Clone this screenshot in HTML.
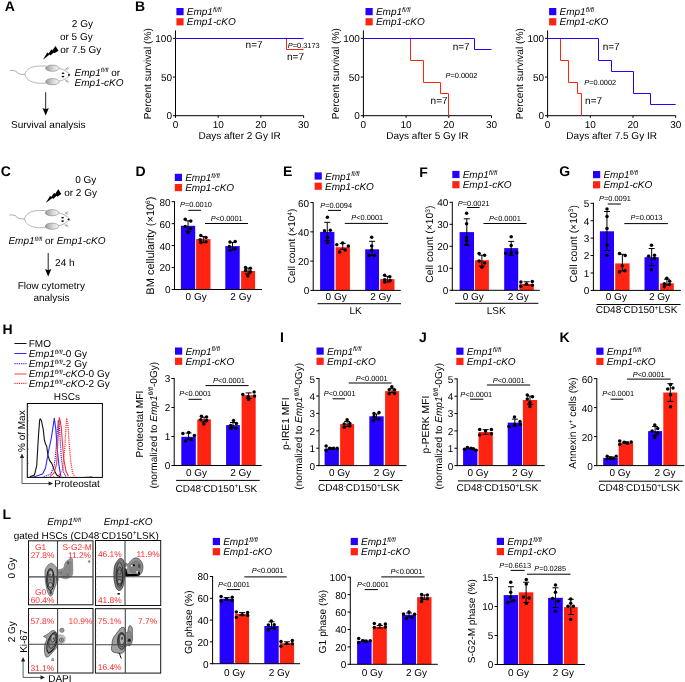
<!DOCTYPE html>
<html><head><meta charset="utf-8"><style>
html,body{margin:0;padding:0;background:#fff;}
svg{display:block;will-change:transform;}
text{font-family:"Liberation Sans", sans-serif;text-rendering:geometricPrecision;}
</style></head><body>
<svg width="685" height="682" viewBox="0 0 685 682" font-family='"Liberation Sans", sans-serif' shape-rendering="auto">
<text x="4.80" y="11.10" font-size="14" font-weight="bold">A</text>
<text x="134.90" y="11.10" font-size="14" font-weight="bold">B</text>
<text x="0.80" y="176.10" font-size="14" font-weight="bold">C</text>
<text x="2.50" y="333.80" font-size="14" font-weight="bold">H</text>
<text x="2.50" y="519.40" font-size="14" font-weight="bold">L</text>
<line x1="175.50" y1="30.40" x2="175.50" y2="116.20" stroke="#000" stroke-width="1"/>
<line x1="175.00" y1="115.70" x2="303.60" y2="115.70" stroke="#000" stroke-width="1"/>
<line x1="172.90" y1="115.70" x2="175.50" y2="115.70" stroke="#000" stroke-width="1"/>
<text x="172.00" y="119.40" font-size="10" text-anchor="end">0</text>
<line x1="172.90" y1="77.05" x2="175.50" y2="77.05" stroke="#000" stroke-width="1"/>
<text x="172.00" y="80.75" font-size="10" text-anchor="end">50</text>
<line x1="172.90" y1="38.40" x2="175.50" y2="38.40" stroke="#000" stroke-width="1"/>
<text x="172.00" y="42.10" font-size="10" text-anchor="end">100</text>
<line x1="175.50" y1="115.70" x2="175.50" y2="117.90" stroke="#000" stroke-width="1"/>
<text x="175.50" y="127.50" font-size="10" text-anchor="middle">0</text>
<line x1="218.20" y1="115.70" x2="218.20" y2="117.90" stroke="#000" stroke-width="1"/>
<text x="218.20" y="127.50" font-size="10" text-anchor="middle">10</text>
<line x1="260.90" y1="115.70" x2="260.90" y2="117.90" stroke="#000" stroke-width="1"/>
<text x="260.90" y="127.50" font-size="10" text-anchor="middle">20</text>
<line x1="303.60" y1="115.70" x2="303.60" y2="117.90" stroke="#000" stroke-width="1"/>
<text x="303.60" y="127.50" font-size="10" text-anchor="middle">30</text>
<text x="239.55" y="138.60" font-size="10" text-anchor="middle">Days after 2 Gy IR</text>
<text x="0" y="0" font-size="10.2" text-anchor="middle" transform="translate(151.10,73.60) rotate(-90)">Percent survival (%)</text>
<polyline points="175.50,38.50 286.50,38.50 286.50,49.50 303.60,49.50" fill="none" stroke="#ff2411" stroke-width="1"/>
<polyline points="175.50,38.50 303.60,38.50" fill="none" stroke="#2400ff" stroke-width="1"/>
<text x="245.60" y="47.80" font-size="10">n=7</text>
<text x="287.80" y="47.60" font-size="7.4"><tspan font-style="italic">P</tspan>=0.3173</text>
<text x="287.00" y="59.50" font-size="10">n=7</text>
<rect x="176.40" y="8.00" width="7.20" height="7.20" fill="#2400ff"/>
<rect x="176.40" y="18.20" width="7.20" height="7.20" fill="#ff2411"/>
<text x="186.80" y="15.20" font-size="10" font-style="italic">Emp1<tspan font-size="6.6" dy="-3.3">fl/fl</tspan></text>
<text x="186.80" y="25.40" font-size="10" font-style="italic">Emp1-cKO</text>
<line x1="363.40" y1="30.40" x2="363.40" y2="116.20" stroke="#000" stroke-width="1"/>
<line x1="362.90" y1="115.70" x2="491.50" y2="115.70" stroke="#000" stroke-width="1"/>
<line x1="360.80" y1="115.70" x2="363.40" y2="115.70" stroke="#000" stroke-width="1"/>
<text x="359.90" y="119.40" font-size="10" text-anchor="end">0</text>
<line x1="360.80" y1="77.05" x2="363.40" y2="77.05" stroke="#000" stroke-width="1"/>
<text x="359.90" y="80.75" font-size="10" text-anchor="end">50</text>
<line x1="360.80" y1="38.40" x2="363.40" y2="38.40" stroke="#000" stroke-width="1"/>
<text x="359.90" y="42.10" font-size="10" text-anchor="end">100</text>
<line x1="363.40" y1="115.70" x2="363.40" y2="117.90" stroke="#000" stroke-width="1"/>
<text x="363.40" y="127.50" font-size="10" text-anchor="middle">0</text>
<line x1="406.10" y1="115.70" x2="406.10" y2="117.90" stroke="#000" stroke-width="1"/>
<text x="406.10" y="127.50" font-size="10" text-anchor="middle">10</text>
<line x1="448.80" y1="115.70" x2="448.80" y2="117.90" stroke="#000" stroke-width="1"/>
<text x="448.80" y="127.50" font-size="10" text-anchor="middle">20</text>
<line x1="491.50" y1="115.70" x2="491.50" y2="117.90" stroke="#000" stroke-width="1"/>
<text x="491.50" y="127.50" font-size="10" text-anchor="middle">30</text>
<text x="427.45" y="138.60" font-size="10" text-anchor="middle">Days after 5 Gy IR</text>
<text x="0" y="0" font-size="10.2" text-anchor="middle" transform="translate(339.00,73.60) rotate(-90)">Percent survival (%)</text>
<polyline points="363.40,38.50 410.50,38.50 410.50,60.50 423.50,60.50 423.50,82.50 440.50,82.50 440.50,93.50 448.50,93.50 448.50,115.70" fill="none" stroke="#ff2411" stroke-width="1"/>
<polyline points="363.40,38.50 474.50,38.50 474.50,49.50 491.50,49.50" fill="none" stroke="#2400ff" stroke-width="1"/>
<text x="452.70" y="50.40" font-size="10">n=7</text>
<text x="445.60" y="77.80" font-size="7.4"><tspan font-style="italic">P</tspan>=0.0002</text>
<text x="430.60" y="104.30" font-size="10">n=7</text>
<rect x="365.50" y="8.00" width="7.20" height="7.20" fill="#2400ff"/>
<rect x="365.50" y="18.20" width="7.20" height="7.20" fill="#ff2411"/>
<text x="375.90" y="15.20" font-size="10" font-style="italic">Emp1<tspan font-size="6.6" dy="-3.3">fl/fl</tspan></text>
<text x="375.90" y="25.40" font-size="10" font-style="italic">Emp1-cKO</text>
<line x1="547.60" y1="30.40" x2="547.60" y2="116.20" stroke="#000" stroke-width="1"/>
<line x1="547.10" y1="115.70" x2="675.70" y2="115.70" stroke="#000" stroke-width="1"/>
<line x1="545.00" y1="115.70" x2="547.60" y2="115.70" stroke="#000" stroke-width="1"/>
<text x="544.10" y="119.40" font-size="10" text-anchor="end">0</text>
<line x1="545.00" y1="77.05" x2="547.60" y2="77.05" stroke="#000" stroke-width="1"/>
<text x="544.10" y="80.75" font-size="10" text-anchor="end">50</text>
<line x1="545.00" y1="38.40" x2="547.60" y2="38.40" stroke="#000" stroke-width="1"/>
<text x="544.10" y="42.10" font-size="10" text-anchor="end">100</text>
<line x1="547.60" y1="115.70" x2="547.60" y2="117.90" stroke="#000" stroke-width="1"/>
<text x="547.60" y="127.50" font-size="10" text-anchor="middle">0</text>
<line x1="590.30" y1="115.70" x2="590.30" y2="117.90" stroke="#000" stroke-width="1"/>
<text x="590.30" y="127.50" font-size="10" text-anchor="middle">10</text>
<line x1="633.00" y1="115.70" x2="633.00" y2="117.90" stroke="#000" stroke-width="1"/>
<text x="633.00" y="127.50" font-size="10" text-anchor="middle">20</text>
<line x1="675.70" y1="115.70" x2="675.70" y2="117.90" stroke="#000" stroke-width="1"/>
<text x="675.70" y="127.50" font-size="10" text-anchor="middle">30</text>
<text x="611.65" y="138.60" font-size="10" text-anchor="middle">Days after 7.5 Gy IR</text>
<text x="0" y="0" font-size="10.2" text-anchor="middle" transform="translate(523.20,73.60) rotate(-90)">Percent survival (%)</text>
<polyline points="547.60,38.50 560.50,38.50 560.50,60.50 568.50,60.50 568.50,82.50 577.50,82.50 577.50,93.50 581.50,93.50 581.50,115.70" fill="none" stroke="#ff2411" stroke-width="1"/>
<polyline points="547.60,38.50 598.50,38.50 598.50,60.50 611.50,60.50 611.50,71.50 633.50,71.50 633.50,93.50 650.50,93.50 650.50,104.50 675.70,104.50" fill="none" stroke="#2400ff" stroke-width="1"/>
<text x="602.70" y="50.40" font-size="10">n=7</text>
<text x="584.30" y="84.60" font-size="7.4"><tspan font-style="italic">P</tspan>=0.0002</text>
<text x="585.10" y="103.80" font-size="10">n=7</text>
<rect x="549.10" y="8.00" width="7.20" height="7.20" fill="#2400ff"/>
<rect x="549.10" y="18.20" width="7.20" height="7.20" fill="#ff2411"/>
<text x="559.50" y="15.20" font-size="10" font-style="italic">Emp1<tspan font-size="6.6" dy="-3.3">fl/fl</tspan></text>
<text x="559.50" y="25.40" font-size="10" font-style="italic">Emp1-cKO</text>
<rect x="180.90" y="225.80" width="14.30" height="63.70" fill="#2400ff"/>
<rect x="196.10" y="239.10" width="14.40" height="50.40" fill="#ff2411"/>
<rect x="225.30" y="246.10" width="14.40" height="43.40" fill="#2400ff"/>
<rect x="241.10" y="271.00" width="14.00" height="18.50" fill="#ff2411"/>
<line x1="188.05" y1="220.80" x2="188.05" y2="231.30" stroke="#000" stroke-width="1"/>
<line x1="185.05" y1="220.80" x2="191.05" y2="220.80" stroke="#000" stroke-width="1"/>
<line x1="185.05" y1="231.30" x2="191.05" y2="231.30" stroke="#000" stroke-width="1"/>
<circle cx="185.20" cy="219.20" r="1.75" fill="#000"/>
<circle cx="190.80" cy="221.10" r="1.75" fill="#000"/>
<circle cx="185.20" cy="226.60" r="1.75" fill="#000"/>
<circle cx="190.80" cy="228.40" r="1.75" fill="#000"/>
<circle cx="187.90" cy="232.40" r="1.75" fill="#000"/>
<line x1="203.30" y1="236.50" x2="203.30" y2="242.60" stroke="#000" stroke-width="1"/>
<line x1="200.30" y1="236.50" x2="206.30" y2="236.50" stroke="#000" stroke-width="1"/>
<line x1="200.30" y1="242.60" x2="206.30" y2="242.60" stroke="#000" stroke-width="1"/>
<circle cx="200.80" cy="235.40" r="1.75" fill="#000"/>
<circle cx="206.00" cy="237.50" r="1.75" fill="#000"/>
<circle cx="200.20" cy="239.80" r="1.75" fill="#000"/>
<circle cx="206.00" cy="241.80" r="1.75" fill="#000"/>
<circle cx="200.80" cy="242.60" r="1.75" fill="#000"/>
<line x1="232.50" y1="242.60" x2="232.50" y2="250.00" stroke="#000" stroke-width="1"/>
<line x1="229.50" y1="242.60" x2="235.50" y2="242.60" stroke="#000" stroke-width="1"/>
<line x1="229.50" y1="250.00" x2="235.50" y2="250.00" stroke="#000" stroke-width="1"/>
<circle cx="230.00" cy="242.10" r="1.75" fill="#000"/>
<circle cx="235.20" cy="241.40" r="1.75" fill="#000"/>
<circle cx="229.40" cy="246.50" r="1.75" fill="#000"/>
<circle cx="235.20" cy="248.40" r="1.75" fill="#000"/>
<circle cx="230.00" cy="250.30" r="1.75" fill="#000"/>
<line x1="248.10" y1="268.10" x2="248.10" y2="273.90" stroke="#000" stroke-width="1"/>
<line x1="245.10" y1="268.10" x2="251.10" y2="268.10" stroke="#000" stroke-width="1"/>
<line x1="245.10" y1="273.90" x2="251.10" y2="273.90" stroke="#000" stroke-width="1"/>
<circle cx="245.50" cy="267.50" r="1.75" fill="#000"/>
<circle cx="250.40" cy="268.30" r="1.75" fill="#000"/>
<circle cx="245.50" cy="270.40" r="1.75" fill="#000"/>
<circle cx="250.40" cy="271.80" r="1.75" fill="#000"/>
<circle cx="247.80" cy="276.00" r="1.75" fill="#000"/>
<line x1="174.50" y1="201.20" x2="174.50" y2="290.00" stroke="#000" stroke-width="1"/>
<line x1="174.00" y1="289.50" x2="262.00" y2="289.50" stroke="#000" stroke-width="1"/>
<line x1="171.70" y1="289.50" x2="174.50" y2="289.50" stroke="#000" stroke-width="1"/>
<text x="170.50" y="293.40" font-size="10" text-anchor="end">0</text>
<line x1="171.70" y1="267.55" x2="174.50" y2="267.55" stroke="#000" stroke-width="1"/>
<text x="170.50" y="271.45" font-size="10" text-anchor="end">20</text>
<line x1="171.70" y1="245.60" x2="174.50" y2="245.60" stroke="#000" stroke-width="1"/>
<text x="170.50" y="249.50" font-size="10" text-anchor="end">40</text>
<line x1="171.70" y1="223.65" x2="174.50" y2="223.65" stroke="#000" stroke-width="1"/>
<text x="170.50" y="227.55" font-size="10" text-anchor="end">60</text>
<line x1="171.70" y1="201.70" x2="174.50" y2="201.70" stroke="#000" stroke-width="1"/>
<text x="170.50" y="205.60" font-size="10" text-anchor="end">80</text>
<text x="196.15" y="300.30" font-size="10" text-anchor="middle">0 Gy</text>
<text x="240.90" y="300.30" font-size="10" text-anchor="middle">2 Gy</text>
<text x="180.00" y="207.30" font-size="7.4"><tspan font-style="italic">P</tspan>=0.0010</text>
<line x1="188.30" y1="210.30" x2="201.10" y2="210.30" stroke="#000" stroke-width="1"/>
<text x="210.80" y="220.70" font-size="7.4"><tspan font-style="italic">P</tspan>&lt;0.0001</text>
<line x1="205.00" y1="223.50" x2="248.00" y2="223.50" stroke="#000" stroke-width="1"/>
<text x="0" y="0" font-size="11" text-anchor="middle" transform="translate(154.00,245.60) rotate(-90)">BM cellularity (×10<tspan font-size="6.6" dy="-3.6">6</tspan><tspan dy="3.6">)</tspan></text>
<rect x="174.80" y="173.80" width="7.20" height="7.20" fill="#2400ff"/>
<rect x="174.80" y="184.00" width="7.20" height="7.20" fill="#ff2411"/>
<text x="185.20" y="181.00" font-size="10" font-style="italic">Emp1<tspan font-size="6.6" dy="-3.3">fl/fl</tspan></text>
<text x="185.20" y="191.20" font-size="10" font-style="italic">Emp1-cKO</text>
<text x="135.60" y="176.10" font-size="14" font-weight="bold">D</text>
<rect x="320.10" y="231.90" width="14.30" height="58.50" fill="#2400ff"/>
<rect x="335.60" y="247.20" width="14.30" height="43.20" fill="#ff2411"/>
<rect x="365.20" y="249.30" width="13.80" height="41.10" fill="#2400ff"/>
<rect x="380.20" y="279.10" width="14.30" height="11.30" fill="#ff2411"/>
<line x1="327.25" y1="222.30" x2="327.25" y2="240.70" stroke="#000" stroke-width="1"/>
<line x1="324.25" y1="222.30" x2="330.25" y2="222.30" stroke="#000" stroke-width="1"/>
<line x1="324.25" y1="240.70" x2="330.25" y2="240.70" stroke="#000" stroke-width="1"/>
<circle cx="327.40" cy="217.30" r="1.75" fill="#000"/>
<circle cx="324.50" cy="230.80" r="1.75" fill="#000"/>
<circle cx="330.30" cy="230.20" r="1.75" fill="#000"/>
<circle cx="327.60" cy="237.60" r="1.75" fill="#000"/>
<circle cx="327.40" cy="242.70" r="1.75" fill="#000"/>
<line x1="342.75" y1="243.40" x2="342.75" y2="249.30" stroke="#000" stroke-width="1"/>
<line x1="339.75" y1="243.40" x2="345.75" y2="243.40" stroke="#000" stroke-width="1"/>
<line x1="339.75" y1="249.30" x2="345.75" y2="249.30" stroke="#000" stroke-width="1"/>
<circle cx="336.80" cy="244.80" r="1.75" fill="#000"/>
<circle cx="342.60" cy="243.10" r="1.75" fill="#000"/>
<circle cx="348.30" cy="246.00" r="1.75" fill="#000"/>
<circle cx="339.70" cy="252.10" r="1.75" fill="#000"/>
<circle cx="345.20" cy="250.10" r="1.75" fill="#000"/>
<line x1="372.10" y1="241.30" x2="372.10" y2="255.60" stroke="#000" stroke-width="1"/>
<line x1="369.10" y1="241.30" x2="375.10" y2="241.30" stroke="#000" stroke-width="1"/>
<line x1="369.10" y1="255.60" x2="375.10" y2="255.60" stroke="#000" stroke-width="1"/>
<circle cx="371.70" cy="237.20" r="1.75" fill="#000"/>
<circle cx="371.70" cy="246.00" r="1.75" fill="#000"/>
<circle cx="371.70" cy="250.10" r="1.75" fill="#000"/>
<circle cx="369.00" cy="255.60" r="1.75" fill="#000"/>
<circle cx="374.50" cy="255.60" r="1.75" fill="#000"/>
<line x1="387.35" y1="276.30" x2="387.35" y2="282.10" stroke="#000" stroke-width="1"/>
<line x1="384.35" y1="276.30" x2="390.35" y2="276.30" stroke="#000" stroke-width="1"/>
<line x1="384.35" y1="282.10" x2="390.35" y2="282.10" stroke="#000" stroke-width="1"/>
<circle cx="384.60" cy="275.30" r="1.75" fill="#000"/>
<circle cx="389.80" cy="276.80" r="1.75" fill="#000"/>
<circle cx="384.60" cy="279.80" r="1.75" fill="#000"/>
<circle cx="390.10" cy="280.60" r="1.75" fill="#000"/>
<circle cx="384.60" cy="282.10" r="1.75" fill="#000"/>
<line x1="313.20" y1="202.10" x2="313.20" y2="290.90" stroke="#000" stroke-width="1"/>
<line x1="312.70" y1="290.40" x2="400.70" y2="290.40" stroke="#000" stroke-width="1"/>
<line x1="310.40" y1="290.40" x2="313.20" y2="290.40" stroke="#000" stroke-width="1"/>
<text x="309.20" y="294.30" font-size="10" text-anchor="end">0</text>
<line x1="310.40" y1="261.13" x2="313.20" y2="261.13" stroke="#000" stroke-width="1"/>
<text x="309.20" y="265.03" font-size="10" text-anchor="end">20</text>
<line x1="310.40" y1="231.87" x2="313.20" y2="231.87" stroke="#000" stroke-width="1"/>
<text x="309.20" y="235.77" font-size="10" text-anchor="end">40</text>
<line x1="310.40" y1="202.60" x2="313.20" y2="202.60" stroke="#000" stroke-width="1"/>
<text x="309.20" y="206.50" font-size="10" text-anchor="end">60</text>
<text x="336.15" y="300.40" font-size="10" text-anchor="middle">0 Gy</text>
<text x="380.70" y="300.40" font-size="10" text-anchor="middle">2 Gy</text>
<text x="320.20" y="207.80" font-size="7.4"><tspan font-style="italic">P</tspan>=0.0094</text>
<line x1="328.00" y1="210.40" x2="341.00" y2="210.40" stroke="#000" stroke-width="1"/>
<text x="351.30" y="220.10" font-size="7.4"><tspan font-style="italic">P</tspan>&lt;0.0001</text>
<line x1="344.80" y1="223.40" x2="388.10" y2="223.40" stroke="#000" stroke-width="1"/>
<line x1="317.50" y1="303.70" x2="401.00" y2="303.70" stroke="#000" stroke-width="1"/>
<text x="355.60" y="313.80" font-size="10" text-anchor="middle">LK</text>
<text x="0" y="0" font-size="10" text-anchor="middle" transform="translate(295.30,246.00) rotate(-90)">Cell count (×10<tspan font-size="6.6" dy="-3.6">4</tspan><tspan dy="3.6">)</tspan></text>
<rect x="314.60" y="172.40" width="7.20" height="7.20" fill="#2400ff"/>
<rect x="314.60" y="182.60" width="7.20" height="7.20" fill="#ff2411"/>
<text x="325.00" y="179.60" font-size="10" font-style="italic">Emp1<tspan font-size="6.6" dy="-3.3">fl/fl</tspan></text>
<text x="325.00" y="189.80" font-size="10" font-style="italic">Emp1-cKO</text>
<text x="282.90" y="176.10" font-size="14" font-weight="bold">E</text>
<rect x="459.60" y="232.10" width="14.40" height="58.20" fill="#2400ff"/>
<rect x="474.90" y="260.20" width="14.00" height="30.10" fill="#ff2411"/>
<rect x="504.20" y="248.10" width="14.00" height="42.20" fill="#2400ff"/>
<rect x="519.40" y="283.90" width="14.40" height="6.40" fill="#ff2411"/>
<line x1="466.80" y1="218.80" x2="466.80" y2="245.20" stroke="#000" stroke-width="1"/>
<line x1="463.80" y1="218.80" x2="469.80" y2="218.80" stroke="#000" stroke-width="1"/>
<line x1="463.80" y1="245.20" x2="469.80" y2="245.20" stroke="#000" stroke-width="1"/>
<circle cx="466.60" cy="213.30" r="1.75" fill="#000"/>
<circle cx="466.60" cy="223.80" r="1.75" fill="#000"/>
<circle cx="466.60" cy="237.60" r="1.75" fill="#000"/>
<circle cx="466.60" cy="240.70" r="1.75" fill="#000"/>
<circle cx="466.60" cy="244.30" r="1.75" fill="#000"/>
<line x1="481.90" y1="255.20" x2="481.90" y2="266.10" stroke="#000" stroke-width="1"/>
<line x1="478.90" y1="255.20" x2="484.90" y2="255.20" stroke="#000" stroke-width="1"/>
<line x1="478.90" y1="266.10" x2="484.90" y2="266.10" stroke="#000" stroke-width="1"/>
<circle cx="479.10" cy="253.60" r="1.75" fill="#000"/>
<circle cx="484.60" cy="255.20" r="1.75" fill="#000"/>
<circle cx="479.10" cy="261.00" r="1.75" fill="#000"/>
<circle cx="484.60" cy="263.00" r="1.75" fill="#000"/>
<circle cx="481.90" cy="267.20" r="1.75" fill="#000"/>
<line x1="511.20" y1="241.40" x2="511.20" y2="255.20" stroke="#000" stroke-width="1"/>
<line x1="508.20" y1="241.40" x2="514.20" y2="241.40" stroke="#000" stroke-width="1"/>
<line x1="508.20" y1="255.20" x2="514.20" y2="255.20" stroke="#000" stroke-width="1"/>
<circle cx="511.20" cy="236.70" r="1.75" fill="#000"/>
<circle cx="511.20" cy="245.40" r="1.75" fill="#000"/>
<circle cx="505.70" cy="253.20" r="1.75" fill="#000"/>
<circle cx="511.20" cy="252.50" r="1.75" fill="#000"/>
<circle cx="516.80" cy="252.80" r="1.75" fill="#000"/>
<line x1="526.60" y1="281.80" x2="526.60" y2="285.10" stroke="#000" stroke-width="1"/>
<line x1="523.60" y1="281.80" x2="529.60" y2="281.80" stroke="#000" stroke-width="1"/>
<line x1="523.60" y1="285.10" x2="529.60" y2="285.10" stroke="#000" stroke-width="1"/>
<circle cx="520.90" cy="282.10" r="1.75" fill="#000"/>
<circle cx="526.40" cy="283.90" r="1.75" fill="#000"/>
<circle cx="532.30" cy="281.60" r="1.75" fill="#000"/>
<circle cx="520.90" cy="286.20" r="1.75" fill="#000"/>
<circle cx="532.30" cy="285.30" r="1.75" fill="#000"/>
<line x1="452.30" y1="201.80" x2="452.30" y2="290.80" stroke="#000" stroke-width="1"/>
<line x1="451.80" y1="290.30" x2="539.80" y2="290.30" stroke="#000" stroke-width="1"/>
<line x1="449.50" y1="290.30" x2="452.30" y2="290.30" stroke="#000" stroke-width="1"/>
<text x="448.30" y="294.20" font-size="10" text-anchor="end">0</text>
<line x1="449.50" y1="268.30" x2="452.30" y2="268.30" stroke="#000" stroke-width="1"/>
<text x="448.30" y="272.20" font-size="10" text-anchor="end">10</text>
<line x1="449.50" y1="246.30" x2="452.30" y2="246.30" stroke="#000" stroke-width="1"/>
<text x="448.30" y="250.20" font-size="10" text-anchor="end">20</text>
<line x1="449.50" y1="224.30" x2="452.30" y2="224.30" stroke="#000" stroke-width="1"/>
<text x="448.30" y="228.20" font-size="10" text-anchor="end">30</text>
<line x1="449.50" y1="202.30" x2="452.30" y2="202.30" stroke="#000" stroke-width="1"/>
<text x="448.30" y="206.20" font-size="10" text-anchor="end">40</text>
<text x="473.25" y="300.20" font-size="10" text-anchor="middle">0 Gy</text>
<text x="518.20" y="300.20" font-size="10" text-anchor="middle">2 Gy</text>
<text x="457.80" y="205.70" font-size="7.4"><tspan font-style="italic">P</tspan>=0.0021</text>
<line x1="467.00" y1="207.50" x2="479.60" y2="207.50" stroke="#000" stroke-width="1"/>
<text x="488.90" y="220.80" font-size="7.4"><tspan font-style="italic">P</tspan>&lt;0.0001</text>
<line x1="483.50" y1="223.50" x2="526.60" y2="223.50" stroke="#000" stroke-width="1"/>
<line x1="455.00" y1="303.30" x2="538.40" y2="303.30" stroke="#000" stroke-width="1"/>
<text x="496.20" y="313.90" font-size="10" text-anchor="middle">LSK</text>
<text x="0" y="0" font-size="10.4" text-anchor="middle" transform="translate(433.20,244.20) rotate(-90)">Cell count (×10<tspan font-size="6.6" dy="-3.6">3</tspan><tspan dy="3.6">)</tspan></text>
<rect x="452.30" y="170.90" width="7.20" height="7.20" fill="#2400ff"/>
<rect x="452.30" y="181.10" width="7.20" height="7.20" fill="#ff2411"/>
<text x="462.70" y="178.10" font-size="10" font-style="italic">Emp1<tspan font-size="6.6" dy="-3.3">fl/fl</tspan></text>
<text x="462.70" y="188.30" font-size="10" font-style="italic">Emp1-cKO</text>
<text x="419.20" y="176.50" font-size="14" font-weight="bold">F</text>
<rect x="599.90" y="231.30" width="14.10" height="59.10" fill="#2400ff"/>
<rect x="615.20" y="263.40" width="14.40" height="27.00" fill="#ff2411"/>
<rect x="644.50" y="257.20" width="14.30" height="33.20" fill="#2400ff"/>
<rect x="660.10" y="283.30" width="13.70" height="7.10" fill="#ff2411"/>
<line x1="606.95" y1="211.50" x2="606.95" y2="250.50" stroke="#000" stroke-width="1"/>
<line x1="603.95" y1="211.50" x2="609.95" y2="211.50" stroke="#000" stroke-width="1"/>
<line x1="603.95" y1="250.50" x2="609.95" y2="250.50" stroke="#000" stroke-width="1"/>
<circle cx="607.00" cy="209.10" r="1.75" fill="#000"/>
<circle cx="607.00" cy="216.60" r="1.75" fill="#000"/>
<circle cx="607.00" cy="228.60" r="1.75" fill="#000"/>
<circle cx="607.00" cy="244.90" r="1.75" fill="#000"/>
<circle cx="607.00" cy="255.50" r="1.75" fill="#000"/>
<line x1="622.40" y1="254.30" x2="622.40" y2="271.00" stroke="#000" stroke-width="1"/>
<line x1="619.40" y1="254.30" x2="625.40" y2="254.30" stroke="#000" stroke-width="1"/>
<line x1="619.40" y1="271.00" x2="625.40" y2="271.00" stroke="#000" stroke-width="1"/>
<circle cx="619.50" cy="253.60" r="1.75" fill="#000"/>
<circle cx="625.20" cy="255.50" r="1.75" fill="#000"/>
<circle cx="622.20" cy="265.70" r="1.75" fill="#000"/>
<circle cx="619.50" cy="271.90" r="1.75" fill="#000"/>
<circle cx="624.90" cy="270.80" r="1.75" fill="#000"/>
<line x1="651.65" y1="248.50" x2="651.65" y2="265.70" stroke="#000" stroke-width="1"/>
<line x1="648.65" y1="248.50" x2="654.65" y2="248.50" stroke="#000" stroke-width="1"/>
<line x1="648.65" y1="265.70" x2="654.65" y2="265.70" stroke="#000" stroke-width="1"/>
<circle cx="651.50" cy="245.20" r="1.75" fill="#000"/>
<circle cx="648.60" cy="256.30" r="1.75" fill="#000"/>
<circle cx="654.50" cy="255.20" r="1.75" fill="#000"/>
<circle cx="654.50" cy="258.30" r="1.75" fill="#000"/>
<circle cx="651.50" cy="269.80" r="1.75" fill="#000"/>
<line x1="666.95" y1="279.20" x2="666.95" y2="285.10" stroke="#000" stroke-width="1"/>
<line x1="663.95" y1="279.20" x2="669.95" y2="279.20" stroke="#000" stroke-width="1"/>
<line x1="663.95" y1="285.10" x2="669.95" y2="285.10" stroke="#000" stroke-width="1"/>
<circle cx="666.80" cy="278.30" r="1.75" fill="#000"/>
<circle cx="664.40" cy="283.70" r="1.75" fill="#000"/>
<circle cx="669.70" cy="281.30" r="1.75" fill="#000"/>
<circle cx="664.40" cy="286.80" r="1.75" fill="#000"/>
<circle cx="669.50" cy="284.50" r="1.75" fill="#000"/>
<line x1="593.40" y1="202.80" x2="593.40" y2="290.90" stroke="#000" stroke-width="1"/>
<line x1="592.90" y1="290.40" x2="680.90" y2="290.40" stroke="#000" stroke-width="1"/>
<line x1="590.60" y1="290.40" x2="593.40" y2="290.40" stroke="#000" stroke-width="1"/>
<text x="589.40" y="294.30" font-size="10" text-anchor="end">0</text>
<line x1="590.60" y1="272.98" x2="593.40" y2="272.98" stroke="#000" stroke-width="1"/>
<text x="589.40" y="276.88" font-size="10" text-anchor="end">1</text>
<line x1="590.60" y1="255.56" x2="593.40" y2="255.56" stroke="#000" stroke-width="1"/>
<text x="589.40" y="259.46" font-size="10" text-anchor="end">2</text>
<line x1="590.60" y1="238.14" x2="593.40" y2="238.14" stroke="#000" stroke-width="1"/>
<text x="589.40" y="242.04" font-size="10" text-anchor="end">3</text>
<line x1="590.60" y1="220.72" x2="593.40" y2="220.72" stroke="#000" stroke-width="1"/>
<text x="589.40" y="224.62" font-size="10" text-anchor="end">4</text>
<line x1="590.60" y1="203.30" x2="593.40" y2="203.30" stroke="#000" stroke-width="1"/>
<text x="589.40" y="207.20" font-size="10" text-anchor="end">5</text>
<text x="616.35" y="300.40" font-size="10" text-anchor="middle">0 Gy</text>
<text x="659.45" y="300.40" font-size="10" text-anchor="middle">2 Gy</text>
<text x="599.00" y="200.80" font-size="7.4"><tspan font-style="italic">P</tspan>=0.0091</text>
<line x1="607.80" y1="204.00" x2="620.90" y2="204.00" stroke="#000" stroke-width="1"/>
<text x="630.50" y="220.40" font-size="7.4"><tspan font-style="italic">P</tspan>=0.0013</text>
<line x1="624.30" y1="223.60" x2="667.90" y2="223.60" stroke="#000" stroke-width="1"/>
<line x1="596.60" y1="304.50" x2="680.60" y2="304.50" stroke="#000" stroke-width="1"/>
<text x="636.50" y="313.30" font-size="10" text-anchor="middle">CD48<tspan font-size="6.6" dy="-3.6">-</tspan><tspan dy="3.6">CD150</tspan><tspan font-size="6.6" dy="-3.6">+</tspan><tspan dy="3.6">LSK</tspan></text>
<text x="0" y="0" font-size="10.4" text-anchor="middle" transform="translate(576.60,243.80) rotate(-90)">Cell count (×10<tspan font-size="6.6" dy="-3.6">3</tspan><tspan dy="3.6">)</tspan></text>
<rect x="593.00" y="171.00" width="7.20" height="7.20" fill="#2400ff"/>
<rect x="593.00" y="181.20" width="7.20" height="7.20" fill="#ff2411"/>
<text x="603.40" y="178.20" font-size="10" font-style="italic">Emp1<tspan font-size="6.6" dy="-3.3">fl/fl</tspan></text>
<text x="603.40" y="188.40" font-size="10" font-style="italic">Emp1-cKO</text>
<text x="559.20" y="176.10" font-size="14" font-weight="bold">G</text>
<rect x="181.30" y="436.80" width="14.50" height="28.70" fill="#2400ff"/>
<rect x="197.30" y="419.30" width="13.60" height="46.20" fill="#ff2411"/>
<rect x="226.10" y="425.10" width="13.80" height="40.40" fill="#2400ff"/>
<rect x="241.60" y="395.20" width="14.10" height="70.30" fill="#ff2411"/>
<line x1="188.55" y1="433.00" x2="188.55" y2="439.20" stroke="#000" stroke-width="1"/>
<line x1="185.55" y1="433.00" x2="191.55" y2="433.00" stroke="#000" stroke-width="1"/>
<line x1="185.55" y1="439.20" x2="191.55" y2="439.20" stroke="#000" stroke-width="1"/>
<circle cx="182.90" cy="433.50" r="1.75" fill="#000"/>
<circle cx="188.70" cy="432.60" r="1.75" fill="#000"/>
<circle cx="194.40" cy="435.60" r="1.75" fill="#000"/>
<circle cx="185.60" cy="441.10" r="1.75" fill="#000"/>
<circle cx="191.40" cy="439.40" r="1.75" fill="#000"/>
<line x1="204.10" y1="417.20" x2="204.10" y2="421.90" stroke="#000" stroke-width="1"/>
<line x1="201.10" y1="417.20" x2="207.10" y2="417.20" stroke="#000" stroke-width="1"/>
<line x1="201.10" y1="421.90" x2="207.10" y2="421.90" stroke="#000" stroke-width="1"/>
<circle cx="201.40" cy="416.30" r="1.75" fill="#000"/>
<circle cx="206.60" cy="417.00" r="1.75" fill="#000"/>
<circle cx="200.80" cy="419.80" r="1.75" fill="#000"/>
<circle cx="206.60" cy="420.50" r="1.75" fill="#000"/>
<circle cx="203.90" cy="424.00" r="1.75" fill="#000"/>
<line x1="233.00" y1="422.50" x2="233.00" y2="427.70" stroke="#000" stroke-width="1"/>
<line x1="230.00" y1="422.50" x2="236.00" y2="422.50" stroke="#000" stroke-width="1"/>
<line x1="230.00" y1="427.70" x2="236.00" y2="427.70" stroke="#000" stroke-width="1"/>
<circle cx="233.50" cy="420.50" r="1.75" fill="#000"/>
<circle cx="236.40" cy="423.60" r="1.75" fill="#000"/>
<circle cx="230.60" cy="425.60" r="1.75" fill="#000"/>
<circle cx="230.60" cy="428.30" r="1.75" fill="#000"/>
<circle cx="235.80" cy="428.30" r="1.75" fill="#000"/>
<line x1="248.65" y1="392.90" x2="248.65" y2="398.30" stroke="#000" stroke-width="1"/>
<line x1="245.65" y1="392.90" x2="251.65" y2="392.90" stroke="#000" stroke-width="1"/>
<line x1="245.65" y1="398.30" x2="251.65" y2="398.30" stroke="#000" stroke-width="1"/>
<circle cx="242.80" cy="394.40" r="1.75" fill="#000"/>
<circle cx="254.10" cy="392.10" r="1.75" fill="#000"/>
<circle cx="254.50" cy="395.90" r="1.75" fill="#000"/>
<circle cx="248.10" cy="396.80" r="1.75" fill="#000"/>
<circle cx="248.70" cy="399.40" r="1.75" fill="#000"/>
<line x1="174.20" y1="378.00" x2="174.20" y2="466.00" stroke="#000" stroke-width="1"/>
<line x1="173.70" y1="465.50" x2="261.70" y2="465.50" stroke="#000" stroke-width="1"/>
<line x1="171.40" y1="465.50" x2="174.20" y2="465.50" stroke="#000" stroke-width="1"/>
<text x="170.20" y="469.40" font-size="10" text-anchor="end">0</text>
<line x1="171.40" y1="436.50" x2="174.20" y2="436.50" stroke="#000" stroke-width="1"/>
<text x="170.20" y="440.40" font-size="10" text-anchor="end">1</text>
<line x1="171.40" y1="407.50" x2="174.20" y2="407.50" stroke="#000" stroke-width="1"/>
<text x="170.20" y="411.40" font-size="10" text-anchor="end">2</text>
<line x1="171.40" y1="378.50" x2="174.20" y2="378.50" stroke="#000" stroke-width="1"/>
<text x="170.20" y="382.40" font-size="10" text-anchor="end">3</text>
<text x="196.55" y="476.10" font-size="10" text-anchor="middle">0 Gy</text>
<text x="240.75" y="476.10" font-size="10" text-anchor="middle">2 Gy</text>
<text x="179.30" y="396.40" font-size="7.4"><tspan font-style="italic">P</tspan>&lt;0.0001</text>
<line x1="188.50" y1="399.30" x2="201.70" y2="399.30" stroke="#000" stroke-width="1"/>
<text x="213.10" y="382.80" font-size="7.4"><tspan font-style="italic">P</tspan>&lt;0.0001</text>
<line x1="205.50" y1="385.60" x2="248.60" y2="385.60" stroke="#000" stroke-width="1"/>
<line x1="176.10" y1="480.40" x2="259.70" y2="480.40" stroke="#000" stroke-width="1"/>
<text x="216.40" y="491.50" font-size="10" text-anchor="middle">CD48<tspan font-size="6.6" dy="-3.6">-</tspan><tspan dy="3.6">CD150</tspan><tspan font-size="6.6" dy="-3.6">+</tspan><tspan dy="3.6">LSK</tspan></text>
<text x="0" y="0" font-size="10.2" text-anchor="middle" transform="translate(142.80,424.00) rotate(-90)">Proteostat MFI</text>
<text x="0" y="0" font-size="10.1" text-anchor="middle" transform="translate(156.90,425.20) rotate(-90)">(normalized to <tspan font-style="italic">Emp1</tspan><tspan font-style="italic" font-size="6.6" dy="-3.6">fl/fl</tspan><tspan dy="3.6">-0Gy)</tspan></text>
<rect x="175.00" y="347.50" width="7.20" height="7.20" fill="#2400ff"/>
<rect x="175.00" y="357.70" width="7.20" height="7.20" fill="#ff2411"/>
<text x="185.40" y="354.70" font-size="10" font-style="italic">Emp1<tspan font-size="6.6" dy="-3.3">fl/fl</tspan></text>
<text x="185.40" y="364.90" font-size="10" font-style="italic">Emp1-cKO</text>
<rect x="324.60" y="448.60" width="14.30" height="17.00" fill="#2400ff"/>
<rect x="340.10" y="424.10" width="14.00" height="41.50" fill="#ff2411"/>
<rect x="369.30" y="416.30" width="14.40" height="49.30" fill="#2400ff"/>
<rect x="385.10" y="391.10" width="14.00" height="74.50" fill="#ff2411"/>
<line x1="331.75" y1="447.60" x2="331.75" y2="449.40" stroke="#000" stroke-width="1"/>
<line x1="328.75" y1="447.60" x2="334.75" y2="447.60" stroke="#000" stroke-width="1"/>
<line x1="328.75" y1="449.40" x2="334.75" y2="449.40" stroke="#000" stroke-width="1"/>
<circle cx="326.10" cy="446.00" r="1.75" fill="#000"/>
<circle cx="326.10" cy="450.20" r="1.75" fill="#000"/>
<circle cx="329.60" cy="448.30" r="1.75" fill="#000"/>
<circle cx="333.70" cy="448.30" r="1.75" fill="#000"/>
<circle cx="337.20" cy="448.30" r="1.75" fill="#000"/>
<line x1="347.10" y1="421.40" x2="347.10" y2="426.50" stroke="#000" stroke-width="1"/>
<line x1="344.10" y1="421.40" x2="350.10" y2="421.40" stroke="#000" stroke-width="1"/>
<line x1="344.10" y1="426.50" x2="350.10" y2="426.50" stroke="#000" stroke-width="1"/>
<circle cx="347.10" cy="419.80" r="1.75" fill="#000"/>
<circle cx="344.20" cy="424.10" r="1.75" fill="#000"/>
<circle cx="349.80" cy="423.50" r="1.75" fill="#000"/>
<circle cx="344.20" cy="427.30" r="1.75" fill="#000"/>
<circle cx="349.80" cy="426.10" r="1.75" fill="#000"/>
<line x1="376.50" y1="414.00" x2="376.50" y2="418.90" stroke="#000" stroke-width="1"/>
<line x1="373.50" y1="414.00" x2="379.50" y2="414.00" stroke="#000" stroke-width="1"/>
<line x1="373.50" y1="418.90" x2="379.50" y2="418.90" stroke="#000" stroke-width="1"/>
<circle cx="379.00" cy="412.40" r="1.75" fill="#000"/>
<circle cx="374.00" cy="413.60" r="1.75" fill="#000"/>
<circle cx="374.00" cy="416.50" r="1.75" fill="#000"/>
<circle cx="379.00" cy="418.90" r="1.75" fill="#000"/>
<circle cx="373.40" cy="420.60" r="1.75" fill="#000"/>
<line x1="392.10" y1="388.30" x2="392.10" y2="392.60" stroke="#000" stroke-width="1"/>
<line x1="389.10" y1="388.30" x2="395.10" y2="388.30" stroke="#000" stroke-width="1"/>
<line x1="389.10" y1="392.60" x2="395.10" y2="392.60" stroke="#000" stroke-width="1"/>
<circle cx="391.80" cy="386.80" r="1.75" fill="#000"/>
<circle cx="394.60" cy="389.90" r="1.75" fill="#000"/>
<circle cx="389.20" cy="389.70" r="1.75" fill="#000"/>
<circle cx="389.20" cy="393.80" r="1.75" fill="#000"/>
<circle cx="394.60" cy="393.40" r="1.75" fill="#000"/>
<line x1="319.00" y1="378.10" x2="319.00" y2="466.10" stroke="#000" stroke-width="1"/>
<line x1="318.50" y1="465.60" x2="406.50" y2="465.60" stroke="#000" stroke-width="1"/>
<line x1="316.20" y1="465.60" x2="319.00" y2="465.60" stroke="#000" stroke-width="1"/>
<text x="315.00" y="469.50" font-size="10" text-anchor="end">0</text>
<line x1="316.20" y1="448.20" x2="319.00" y2="448.20" stroke="#000" stroke-width="1"/>
<text x="315.00" y="452.10" font-size="10" text-anchor="end">1</text>
<line x1="316.20" y1="430.80" x2="319.00" y2="430.80" stroke="#000" stroke-width="1"/>
<text x="315.00" y="434.70" font-size="10" text-anchor="end">2</text>
<line x1="316.20" y1="413.40" x2="319.00" y2="413.40" stroke="#000" stroke-width="1"/>
<text x="315.00" y="417.30" font-size="10" text-anchor="end">3</text>
<line x1="316.20" y1="396.00" x2="319.00" y2="396.00" stroke="#000" stroke-width="1"/>
<text x="315.00" y="399.90" font-size="10" text-anchor="end">4</text>
<line x1="316.20" y1="378.60" x2="319.00" y2="378.60" stroke="#000" stroke-width="1"/>
<text x="315.00" y="382.50" font-size="10" text-anchor="end">5</text>
<text x="339.50" y="476.20" font-size="10" text-anchor="middle">0 Gy</text>
<text x="384.40" y="476.20" font-size="10" text-anchor="middle">2 Gy</text>
<text x="323.70" y="395.50" font-size="7.4"><tspan font-style="italic">P</tspan>&lt;0.0001</text>
<line x1="332.60" y1="398.80" x2="345.00" y2="398.80" stroke="#000" stroke-width="1"/>
<text x="355.80" y="380.70" font-size="7.4"><tspan font-style="italic">P</tspan>&lt;0.0001</text>
<line x1="348.80" y1="383.00" x2="391.50" y2="383.00" stroke="#000" stroke-width="1"/>
<line x1="319.10" y1="480.50" x2="402.50" y2="480.50" stroke="#000" stroke-width="1"/>
<text x="358.80" y="491.40" font-size="10" text-anchor="middle">CD48<tspan font-size="6.6" dy="-3.6">-</tspan><tspan dy="3.6">CD150</tspan><tspan font-size="6.6" dy="-3.6">+</tspan><tspan dy="3.6">LSK</tspan></text>
<text x="0" y="0" font-size="10.3" text-anchor="middle" transform="translate(289.10,423.80) rotate(-90)">p-IRE1 MFI</text>
<text x="0" y="0" font-size="10.1" text-anchor="middle" transform="translate(302.40,426.30) rotate(-90)">(normalized to <tspan font-style="italic">Emp1</tspan><tspan font-style="italic" font-size="6.6" dy="-3.6">fl/fl</tspan><tspan dy="3.6">-0Gy)</tspan></text>
<rect x="316.50" y="347.50" width="7.20" height="7.20" fill="#2400ff"/>
<rect x="316.50" y="357.70" width="7.20" height="7.20" fill="#ff2411"/>
<text x="326.90" y="354.70" font-size="10" font-style="italic">Emp1<tspan font-size="6.6" dy="-3.3">fl/fl</tspan></text>
<text x="326.90" y="364.90" font-size="10" font-style="italic">Emp1-cKO</text>
<text x="279.90" y="341.60" font-size="14" font-weight="bold">I</text>
<rect x="463.10" y="448.90" width="14.30" height="16.70" fill="#2400ff"/>
<rect x="478.50" y="432.00" width="14.30" height="33.60" fill="#ff2411"/>
<rect x="507.70" y="422.60" width="14.30" height="43.00" fill="#2400ff"/>
<rect x="522.90" y="400.00" width="14.20" height="65.60" fill="#ff2411"/>
<line x1="467.25" y1="448.90" x2="473.25" y2="448.90" stroke="#000" stroke-width="1"/>
<circle cx="464.50" cy="449.20" r="1.75" fill="#000"/>
<circle cx="467.40" cy="447.50" r="1.75" fill="#000"/>
<circle cx="470.90" cy="448.30" r="1.75" fill="#000"/>
<circle cx="473.30" cy="448.70" r="1.75" fill="#000"/>
<circle cx="476.00" cy="450.20" r="1.75" fill="#000"/>
<line x1="485.65" y1="429.60" x2="485.65" y2="434.30" stroke="#000" stroke-width="1"/>
<line x1="482.65" y1="429.60" x2="488.65" y2="429.60" stroke="#000" stroke-width="1"/>
<line x1="482.65" y1="434.30" x2="488.65" y2="434.30" stroke="#000" stroke-width="1"/>
<circle cx="479.70" cy="429.40" r="1.75" fill="#000"/>
<circle cx="485.50" cy="431.10" r="1.75" fill="#000"/>
<circle cx="491.40" cy="429.60" r="1.75" fill="#000"/>
<circle cx="479.70" cy="435.00" r="1.75" fill="#000"/>
<circle cx="491.40" cy="433.80" r="1.75" fill="#000"/>
<line x1="514.85" y1="419.10" x2="514.85" y2="426.10" stroke="#000" stroke-width="1"/>
<line x1="511.85" y1="419.10" x2="517.85" y2="419.10" stroke="#000" stroke-width="1"/>
<line x1="511.85" y1="426.10" x2="517.85" y2="426.10" stroke="#000" stroke-width="1"/>
<circle cx="514.50" cy="417.10" r="1.75" fill="#000"/>
<circle cx="520.00" cy="421.40" r="1.75" fill="#000"/>
<circle cx="508.90" cy="426.50" r="1.75" fill="#000"/>
<circle cx="514.70" cy="424.70" r="1.75" fill="#000"/>
<circle cx="520.30" cy="424.50" r="1.75" fill="#000"/>
<line x1="530.00" y1="396.10" x2="530.00" y2="404.30" stroke="#000" stroke-width="1"/>
<line x1="527.00" y1="396.10" x2="533.00" y2="396.10" stroke="#000" stroke-width="1"/>
<line x1="527.00" y1="404.30" x2="533.00" y2="404.30" stroke="#000" stroke-width="1"/>
<circle cx="527.30" cy="394.90" r="1.75" fill="#000"/>
<circle cx="532.50" cy="396.70" r="1.75" fill="#000"/>
<circle cx="527.30" cy="399.00" r="1.75" fill="#000"/>
<circle cx="529.90" cy="402.50" r="1.75" fill="#000"/>
<circle cx="529.90" cy="406.60" r="1.75" fill="#000"/>
<line x1="457.20" y1="378.40" x2="457.20" y2="466.10" stroke="#000" stroke-width="1"/>
<line x1="456.70" y1="465.60" x2="544.70" y2="465.60" stroke="#000" stroke-width="1"/>
<line x1="454.40" y1="465.60" x2="457.20" y2="465.60" stroke="#000" stroke-width="1"/>
<text x="453.20" y="469.50" font-size="10" text-anchor="end">0</text>
<line x1="454.40" y1="448.26" x2="457.20" y2="448.26" stroke="#000" stroke-width="1"/>
<text x="453.20" y="452.16" font-size="10" text-anchor="end">1</text>
<line x1="454.40" y1="430.92" x2="457.20" y2="430.92" stroke="#000" stroke-width="1"/>
<text x="453.20" y="434.82" font-size="10" text-anchor="end">2</text>
<line x1="454.40" y1="413.58" x2="457.20" y2="413.58" stroke="#000" stroke-width="1"/>
<text x="453.20" y="417.48" font-size="10" text-anchor="end">3</text>
<line x1="454.40" y1="396.24" x2="457.20" y2="396.24" stroke="#000" stroke-width="1"/>
<text x="453.20" y="400.14" font-size="10" text-anchor="end">4</text>
<line x1="454.40" y1="378.90" x2="457.20" y2="378.90" stroke="#000" stroke-width="1"/>
<text x="453.20" y="382.80" font-size="10" text-anchor="end">5</text>
<text x="477.95" y="476.20" font-size="10" text-anchor="middle">0 Gy</text>
<text x="522.45" y="476.20" font-size="10" text-anchor="middle">2 Gy</text>
<text x="460.30" y="396.90" font-size="7.4"><tspan font-style="italic">P</tspan>&lt;0.0001</text>
<line x1="470.10" y1="399.20" x2="483.30" y2="399.20" stroke="#000" stroke-width="1"/>
<text x="492.80" y="382.70" font-size="7.4"><tspan font-style="italic">P</tspan>&lt;0.0001</text>
<line x1="486.90" y1="385.00" x2="530.20" y2="385.00" stroke="#000" stroke-width="1"/>
<line x1="457.90" y1="480.90" x2="541.10" y2="480.90" stroke="#000" stroke-width="1"/>
<text x="497.30" y="491.40" font-size="10" text-anchor="middle">CD48<tspan font-size="6.6" dy="-3.6">-</tspan><tspan dy="3.6">CD150</tspan><tspan font-size="6.6" dy="-3.6">+</tspan><tspan dy="3.6">LSK</tspan></text>
<text x="0" y="0" font-size="10.3" text-anchor="middle" transform="translate(428.60,424.60) rotate(-90)">p-PERK MFI</text>
<text x="0" y="0" font-size="10.1" text-anchor="middle" transform="translate(441.80,426.20) rotate(-90)">(normalized to <tspan font-style="italic">Emp1</tspan><tspan font-style="italic" font-size="6.6" dy="-3.6">fl/fl</tspan><tspan dy="3.6">-0Gy)</tspan></text>
<rect x="456.30" y="347.60" width="7.20" height="7.20" fill="#2400ff"/>
<rect x="456.30" y="357.80" width="7.20" height="7.20" fill="#ff2411"/>
<text x="466.70" y="354.80" font-size="10" font-style="italic">Emp1<tspan font-size="6.6" dy="-3.3">fl/fl</tspan></text>
<text x="466.70" y="365.00" font-size="10" font-style="italic">Emp1-cKO</text>
<text x="418.90" y="342.10" font-size="14" font-weight="bold">J</text>
<rect x="603.20" y="457.90" width="14.60" height="7.70" fill="#2400ff"/>
<rect x="618.70" y="442.60" width="14.40" height="23.00" fill="#ff2411"/>
<rect x="648.10" y="431.10" width="14.00" height="34.50" fill="#2400ff"/>
<rect x="663.30" y="392.50" width="14.00" height="73.10" fill="#ff2411"/>
<line x1="610.50" y1="456.80" x2="610.50" y2="459.00" stroke="#000" stroke-width="1"/>
<line x1="607.50" y1="456.80" x2="613.50" y2="456.80" stroke="#000" stroke-width="1"/>
<line x1="607.50" y1="459.00" x2="613.50" y2="459.00" stroke="#000" stroke-width="1"/>
<circle cx="607.20" cy="456.30" r="1.75" fill="#000"/>
<circle cx="607.20" cy="459.10" r="1.75" fill="#000"/>
<circle cx="610.30" cy="457.90" r="1.75" fill="#000"/>
<circle cx="613.50" cy="458.50" r="1.75" fill="#000"/>
<circle cx="616.20" cy="456.30" r="1.75" fill="#000"/>
<line x1="625.90" y1="441.80" x2="625.90" y2="443.40" stroke="#000" stroke-width="1"/>
<line x1="622.90" y1="441.80" x2="628.90" y2="441.80" stroke="#000" stroke-width="1"/>
<line x1="622.90" y1="443.40" x2="628.90" y2="443.40" stroke="#000" stroke-width="1"/>
<circle cx="619.70" cy="441.10" r="1.75" fill="#000"/>
<circle cx="619.70" cy="444.50" r="1.75" fill="#000"/>
<circle cx="624.10" cy="442.30" r="1.75" fill="#000"/>
<circle cx="627.40" cy="443.30" r="1.75" fill="#000"/>
<circle cx="631.20" cy="441.90" r="1.75" fill="#000"/>
<line x1="655.10" y1="426.40" x2="655.10" y2="435.50" stroke="#000" stroke-width="1"/>
<line x1="652.10" y1="426.40" x2="658.10" y2="426.40" stroke="#000" stroke-width="1"/>
<line x1="652.10" y1="435.50" x2="658.10" y2="435.50" stroke="#000" stroke-width="1"/>
<circle cx="654.80" cy="425.10" r="1.75" fill="#000"/>
<circle cx="657.70" cy="428.60" r="1.75" fill="#000"/>
<circle cx="652.10" cy="431.10" r="1.75" fill="#000"/>
<circle cx="657.70" cy="433.00" r="1.75" fill="#000"/>
<circle cx="654.80" cy="437.60" r="1.75" fill="#000"/>
<line x1="670.30" y1="383.70" x2="670.30" y2="401.40" stroke="#000" stroke-width="1"/>
<line x1="667.30" y1="383.70" x2="673.30" y2="383.70" stroke="#000" stroke-width="1"/>
<line x1="667.30" y1="401.40" x2="673.30" y2="401.40" stroke="#000" stroke-width="1"/>
<circle cx="670.50" cy="384.40" r="1.75" fill="#000"/>
<circle cx="667.70" cy="389.00" r="1.75" fill="#000"/>
<circle cx="673.00" cy="388.10" r="1.75" fill="#000"/>
<circle cx="670.50" cy="394.70" r="1.75" fill="#000"/>
<circle cx="670.50" cy="406.80" r="1.75" fill="#000"/>
<line x1="596.80" y1="378.10" x2="596.80" y2="466.10" stroke="#000" stroke-width="1"/>
<line x1="596.30" y1="465.60" x2="684.30" y2="465.60" stroke="#000" stroke-width="1"/>
<line x1="594.00" y1="465.60" x2="596.80" y2="465.60" stroke="#000" stroke-width="1"/>
<text x="592.80" y="469.50" font-size="10" text-anchor="end">0</text>
<line x1="594.00" y1="436.60" x2="596.80" y2="436.60" stroke="#000" stroke-width="1"/>
<text x="592.80" y="440.50" font-size="10" text-anchor="end">20</text>
<line x1="594.00" y1="407.60" x2="596.80" y2="407.60" stroke="#000" stroke-width="1"/>
<text x="592.80" y="411.50" font-size="10" text-anchor="end">40</text>
<line x1="594.00" y1="378.60" x2="596.80" y2="378.60" stroke="#000" stroke-width="1"/>
<text x="592.80" y="382.50" font-size="10" text-anchor="end">60</text>
<text x="620.05" y="476.20" font-size="10" text-anchor="middle">0 Gy</text>
<text x="665.00" y="476.20" font-size="10" text-anchor="middle">2 Gy</text>
<text x="602.20" y="395.90" font-size="7.4"><tspan font-style="italic">P</tspan>&lt;0.0001</text>
<line x1="610.70" y1="399.20" x2="623.30" y2="399.20" stroke="#000" stroke-width="1"/>
<text x="632.80" y="377.20" font-size="7.4"><tspan font-style="italic">P</tspan>&lt;0.0001</text>
<line x1="626.90" y1="379.10" x2="670.60" y2="379.10" stroke="#000" stroke-width="1"/>
<line x1="599.00" y1="481.20" x2="682.60" y2="481.20" stroke="#000" stroke-width="1"/>
<text x="639.10" y="491.30" font-size="10" text-anchor="middle">CD48<tspan font-size="6.6" dy="-3.6">-</tspan><tspan dy="3.6">CD150</tspan><tspan font-size="6.6" dy="-3.6">+</tspan><tspan dy="3.6">LSK</tspan></text>
<text x="0" y="0" font-size="10.3" text-anchor="middle" transform="translate(576.10,423.00) rotate(-90)">Annexin v<tspan font-size="6.6" dy="-3.6">+</tspan><tspan dy="3.6"> cells (%)</tspan></text>
<rect x="596.30" y="347.60" width="7.20" height="7.20" fill="#2400ff"/>
<rect x="596.30" y="357.80" width="7.20" height="7.20" fill="#ff2411"/>
<text x="606.70" y="354.80" font-size="10" font-style="italic">Emp1<tspan font-size="6.6" dy="-3.3">fl/fl</tspan></text>
<text x="606.70" y="365.00" font-size="10" font-style="italic">Emp1-cKO</text>
<text x="559.50" y="342.10" font-size="14" font-weight="bold">K</text>
<rect x="219.60" y="598.80" width="14.30" height="64.90" fill="#2400ff"/>
<rect x="235.10" y="613.90" width="14.00" height="49.80" fill="#ff2411"/>
<rect x="264.30" y="626.00" width="14.40" height="37.70" fill="#2400ff"/>
<rect x="279.80" y="643.10" width="14.30" height="20.60" fill="#ff2411"/>
<line x1="226.75" y1="597.60" x2="226.75" y2="600.00" stroke="#000" stroke-width="1"/>
<line x1="223.75" y1="597.60" x2="229.75" y2="597.60" stroke="#000" stroke-width="1"/>
<line x1="223.75" y1="600.00" x2="229.75" y2="600.00" stroke="#000" stroke-width="1"/>
<circle cx="221.10" cy="596.40" r="1.75" fill="#000"/>
<circle cx="221.10" cy="601.10" r="1.75" fill="#000"/>
<circle cx="226.60" cy="598.80" r="1.75" fill="#000"/>
<circle cx="232.20" cy="597.20" r="1.75" fill="#000"/>
<circle cx="232.20" cy="600.50" r="1.75" fill="#000"/>
<line x1="242.10" y1="612.60" x2="242.10" y2="615.20" stroke="#000" stroke-width="1"/>
<line x1="239.10" y1="612.60" x2="245.10" y2="612.60" stroke="#000" stroke-width="1"/>
<line x1="239.10" y1="615.20" x2="245.10" y2="615.20" stroke="#000" stroke-width="1"/>
<circle cx="236.30" cy="612.00" r="1.75" fill="#000"/>
<circle cx="236.30" cy="617.40" r="1.75" fill="#000"/>
<circle cx="242.10" cy="614.80" r="1.75" fill="#000"/>
<circle cx="247.60" cy="612.40" r="1.75" fill="#000"/>
<circle cx="247.60" cy="615.50" r="1.75" fill="#000"/>
<line x1="271.50" y1="621.80" x2="271.50" y2="628.30" stroke="#000" stroke-width="1"/>
<line x1="268.50" y1="621.80" x2="274.50" y2="621.80" stroke="#000" stroke-width="1"/>
<line x1="268.50" y1="628.30" x2="274.50" y2="628.30" stroke="#000" stroke-width="1"/>
<circle cx="271.30" cy="621.00" r="1.75" fill="#000"/>
<circle cx="268.40" cy="625.00" r="1.75" fill="#000"/>
<circle cx="274.20" cy="624.80" r="1.75" fill="#000"/>
<circle cx="274.20" cy="628.30" r="1.75" fill="#000"/>
<circle cx="268.40" cy="630.00" r="1.75" fill="#000"/>
<line x1="286.95" y1="641.80" x2="286.95" y2="644.40" stroke="#000" stroke-width="1"/>
<line x1="283.95" y1="641.80" x2="289.95" y2="641.80" stroke="#000" stroke-width="1"/>
<line x1="283.95" y1="644.40" x2="289.95" y2="644.40" stroke="#000" stroke-width="1"/>
<circle cx="281.00" cy="641.40" r="1.75" fill="#000"/>
<circle cx="281.00" cy="646.30" r="1.75" fill="#000"/>
<circle cx="286.80" cy="643.50" r="1.75" fill="#000"/>
<circle cx="292.30" cy="640.50" r="1.75" fill="#000"/>
<circle cx="292.30" cy="643.70" r="1.75" fill="#000"/>
<line x1="212.60" y1="576.00" x2="212.60" y2="664.20" stroke="#000" stroke-width="1"/>
<line x1="212.10" y1="663.70" x2="300.10" y2="663.70" stroke="#000" stroke-width="1"/>
<line x1="209.80" y1="663.70" x2="212.60" y2="663.70" stroke="#000" stroke-width="1"/>
<text x="208.60" y="667.60" font-size="10" text-anchor="end">0</text>
<line x1="209.80" y1="641.90" x2="212.60" y2="641.90" stroke="#000" stroke-width="1"/>
<text x="208.60" y="645.80" font-size="10" text-anchor="end">20</text>
<line x1="209.80" y1="620.10" x2="212.60" y2="620.10" stroke="#000" stroke-width="1"/>
<text x="208.60" y="624.00" font-size="10" text-anchor="end">40</text>
<line x1="209.80" y1="598.30" x2="212.60" y2="598.30" stroke="#000" stroke-width="1"/>
<text x="208.60" y="602.20" font-size="10" text-anchor="end">60</text>
<line x1="209.80" y1="576.50" x2="212.60" y2="576.50" stroke="#000" stroke-width="1"/>
<text x="208.60" y="580.40" font-size="10" text-anchor="end">80</text>
<text x="234.50" y="675.60" font-size="10" text-anchor="middle">0 Gy</text>
<text x="279.25" y="675.60" font-size="10" text-anchor="middle">2 Gy</text>
<text x="218.00" y="586.60" font-size="7.4"><tspan font-style="italic">P</tspan>&lt;0.0001</text>
<line x1="227.10" y1="589.60" x2="239.90" y2="589.60" stroke="#000" stroke-width="1"/>
<text x="251.70" y="573.40" font-size="7.4"><tspan font-style="italic">P</tspan>&lt;0.0001</text>
<line x1="244.30" y1="576.90" x2="286.70" y2="576.90" stroke="#000" stroke-width="1"/>
<text x="0" y="0" font-size="10.3" text-anchor="middle" transform="translate(191.50,622.20) rotate(-90)">G0 phase (%)</text>
<rect x="212.80" y="537.90" width="7.20" height="7.20" fill="#2400ff"/>
<rect x="212.80" y="548.10" width="7.20" height="7.20" fill="#ff2411"/>
<text x="223.20" y="545.10" font-size="10" font-style="italic">Emp1<tspan font-size="6.6" dy="-3.3">fl/fl</tspan></text>
<text x="223.20" y="555.30" font-size="10" font-style="italic">Emp1-cKO</text>
<rect x="357.10" y="640.80" width="14.50" height="23.50" fill="#2400ff"/>
<rect x="372.80" y="626.80" width="14.00" height="37.50" fill="#ff2411"/>
<rect x="402.00" y="614.80" width="14.00" height="49.50" fill="#2400ff"/>
<rect x="417.10" y="597.20" width="14.40" height="67.10" fill="#ff2411"/>
<line x1="364.35" y1="640.00" x2="364.35" y2="641.60" stroke="#000" stroke-width="1"/>
<line x1="361.35" y1="640.00" x2="367.35" y2="640.00" stroke="#000" stroke-width="1"/>
<line x1="361.35" y1="641.60" x2="367.35" y2="641.60" stroke="#000" stroke-width="1"/>
<circle cx="358.70" cy="638.50" r="1.75" fill="#000"/>
<circle cx="358.70" cy="642.80" r="1.75" fill="#000"/>
<circle cx="362.60" cy="640.80" r="1.75" fill="#000"/>
<circle cx="366.40" cy="641.40" r="1.75" fill="#000"/>
<circle cx="370.20" cy="640.80" r="1.75" fill="#000"/>
<line x1="379.80" y1="625.50" x2="379.80" y2="628.00" stroke="#000" stroke-width="1"/>
<line x1="376.80" y1="625.50" x2="382.80" y2="625.50" stroke="#000" stroke-width="1"/>
<line x1="376.80" y1="628.00" x2="382.80" y2="628.00" stroke="#000" stroke-width="1"/>
<circle cx="374.30" cy="623.60" r="1.75" fill="#000"/>
<circle cx="374.30" cy="627.60" r="1.75" fill="#000"/>
<circle cx="379.80" cy="624.80" r="1.75" fill="#000"/>
<circle cx="385.40" cy="623.90" r="1.75" fill="#000"/>
<circle cx="385.40" cy="627.10" r="1.75" fill="#000"/>
<line x1="409.00" y1="613.00" x2="409.00" y2="617.00" stroke="#000" stroke-width="1"/>
<line x1="406.00" y1="613.00" x2="412.00" y2="613.00" stroke="#000" stroke-width="1"/>
<line x1="406.00" y1="617.00" x2="412.00" y2="617.00" stroke="#000" stroke-width="1"/>
<circle cx="403.50" cy="613.90" r="1.75" fill="#000"/>
<circle cx="409.00" cy="612.00" r="1.75" fill="#000"/>
<circle cx="414.60" cy="614.30" r="1.75" fill="#000"/>
<circle cx="406.40" cy="618.60" r="1.75" fill="#000"/>
<circle cx="412.00" cy="617.40" r="1.75" fill="#000"/>
<line x1="424.30" y1="595.00" x2="424.30" y2="599.50" stroke="#000" stroke-width="1"/>
<line x1="421.30" y1="595.00" x2="427.30" y2="595.00" stroke="#000" stroke-width="1"/>
<line x1="421.30" y1="599.50" x2="427.30" y2="599.50" stroke="#000" stroke-width="1"/>
<circle cx="421.60" cy="594.40" r="1.75" fill="#000"/>
<circle cx="427.40" cy="594.90" r="1.75" fill="#000"/>
<circle cx="421.60" cy="597.90" r="1.75" fill="#000"/>
<circle cx="427.40" cy="598.80" r="1.75" fill="#000"/>
<circle cx="421.60" cy="601.40" r="1.75" fill="#000"/>
<line x1="350.30" y1="576.70" x2="350.30" y2="664.80" stroke="#000" stroke-width="1"/>
<line x1="349.80" y1="664.30" x2="437.80" y2="664.30" stroke="#000" stroke-width="1"/>
<line x1="347.50" y1="664.30" x2="350.30" y2="664.30" stroke="#000" stroke-width="1"/>
<text x="346.30" y="668.20" font-size="10" text-anchor="end">0</text>
<line x1="347.50" y1="646.88" x2="350.30" y2="646.88" stroke="#000" stroke-width="1"/>
<text x="346.30" y="650.78" font-size="10" text-anchor="end">20</text>
<line x1="347.50" y1="629.46" x2="350.30" y2="629.46" stroke="#000" stroke-width="1"/>
<text x="346.30" y="633.36" font-size="10" text-anchor="end">40</text>
<line x1="347.50" y1="612.04" x2="350.30" y2="612.04" stroke="#000" stroke-width="1"/>
<text x="346.30" y="615.94" font-size="10" text-anchor="end">60</text>
<line x1="347.50" y1="594.62" x2="350.30" y2="594.62" stroke="#000" stroke-width="1"/>
<text x="346.30" y="598.52" font-size="10" text-anchor="end">80</text>
<line x1="347.50" y1="577.20" x2="350.30" y2="577.20" stroke="#000" stroke-width="1"/>
<text x="346.30" y="581.10" font-size="10" text-anchor="end">100</text>
<text x="372.20" y="675.60" font-size="10" text-anchor="middle">0 Gy</text>
<text x="416.55" y="675.60" font-size="10" text-anchor="middle">2 Gy</text>
<text x="357.10" y="587.10" font-size="7.4"><tspan font-style="italic">P</tspan>&lt;0.0001</text>
<line x1="364.70" y1="589.60" x2="377.80" y2="589.60" stroke="#000" stroke-width="1"/>
<text x="390.40" y="573.80" font-size="7.4"><tspan font-style="italic">P</tspan>&lt;0.0001</text>
<line x1="381.30" y1="576.90" x2="424.60" y2="576.90" stroke="#000" stroke-width="1"/>
<text x="0" y="0" font-size="10.3" text-anchor="middle" transform="translate(326.10,621.70) rotate(-90)">G1 phase (%)</text>
<rect x="350.70" y="537.90" width="7.20" height="7.20" fill="#2400ff"/>
<rect x="350.70" y="548.10" width="7.20" height="7.20" fill="#ff2411"/>
<text x="361.10" y="545.10" font-size="10" font-style="italic">Emp1<tspan font-size="6.6" dy="-3.3">fl/fl</tspan></text>
<text x="361.10" y="555.30" font-size="10" font-style="italic">Emp1-cKO</text>
<rect x="503.70" y="595.10" width="14.40" height="69.40" fill="#2400ff"/>
<rect x="518.90" y="592.30" width="14.40" height="72.20" fill="#ff2411"/>
<rect x="548.10" y="597.80" width="14.70" height="66.70" fill="#2400ff"/>
<rect x="564.00" y="607.10" width="13.70" height="57.40" fill="#ff2411"/>
<line x1="510.90" y1="586.70" x2="510.90" y2="601.90" stroke="#000" stroke-width="1"/>
<line x1="507.90" y1="586.70" x2="513.90" y2="586.70" stroke="#000" stroke-width="1"/>
<line x1="507.90" y1="601.90" x2="513.90" y2="601.90" stroke="#000" stroke-width="1"/>
<circle cx="510.70" cy="582.20" r="1.75" fill="#000"/>
<circle cx="510.70" cy="592.30" r="1.75" fill="#000"/>
<circle cx="510.70" cy="597.00" r="1.75" fill="#000"/>
<circle cx="507.90" cy="602.40" r="1.75" fill="#000"/>
<circle cx="513.80" cy="600.50" r="1.75" fill="#000"/>
<line x1="526.10" y1="582.20" x2="526.10" y2="602.40" stroke="#000" stroke-width="1"/>
<line x1="523.10" y1="582.20" x2="529.10" y2="582.20" stroke="#000" stroke-width="1"/>
<line x1="523.10" y1="602.40" x2="529.10" y2="602.40" stroke="#000" stroke-width="1"/>
<circle cx="526.30" cy="579.40" r="1.75" fill="#000"/>
<circle cx="526.30" cy="584.10" r="1.75" fill="#000"/>
<circle cx="523.40" cy="597.00" r="1.75" fill="#000"/>
<circle cx="529.00" cy="598.10" r="1.75" fill="#000"/>
<circle cx="526.30" cy="603.60" r="1.75" fill="#000"/>
<line x1="555.45" y1="587.80" x2="555.45" y2="607.50" stroke="#000" stroke-width="1"/>
<line x1="552.45" y1="587.80" x2="558.45" y2="587.80" stroke="#000" stroke-width="1"/>
<line x1="552.45" y1="607.50" x2="558.45" y2="607.50" stroke="#000" stroke-width="1"/>
<circle cx="555.50" cy="584.90" r="1.75" fill="#000"/>
<circle cx="555.50" cy="592.30" r="1.75" fill="#000"/>
<circle cx="552.60" cy="598.60" r="1.75" fill="#000"/>
<circle cx="558.20" cy="600.90" r="1.75" fill="#000"/>
<circle cx="555.50" cy="611.20" r="1.75" fill="#000"/>
<line x1="570.85" y1="599.30" x2="570.85" y2="614.50" stroke="#000" stroke-width="1"/>
<line x1="567.85" y1="599.30" x2="573.85" y2="599.30" stroke="#000" stroke-width="1"/>
<line x1="567.85" y1="614.50" x2="573.85" y2="614.50" stroke="#000" stroke-width="1"/>
<circle cx="570.70" cy="598.90" r="1.75" fill="#000"/>
<circle cx="570.70" cy="603.30" r="1.75" fill="#000"/>
<circle cx="568.00" cy="606.30" r="1.75" fill="#000"/>
<circle cx="573.30" cy="606.30" r="1.75" fill="#000"/>
<circle cx="570.70" cy="619.60" r="1.75" fill="#000"/>
<line x1="497.40" y1="577.00" x2="497.40" y2="665.00" stroke="#000" stroke-width="1"/>
<line x1="496.90" y1="664.50" x2="584.90" y2="664.50" stroke="#000" stroke-width="1"/>
<line x1="494.60" y1="664.50" x2="497.40" y2="664.50" stroke="#000" stroke-width="1"/>
<text x="493.40" y="668.40" font-size="10" text-anchor="end">0</text>
<line x1="494.60" y1="635.50" x2="497.40" y2="635.50" stroke="#000" stroke-width="1"/>
<text x="493.40" y="639.40" font-size="10" text-anchor="end">5</text>
<line x1="494.60" y1="606.50" x2="497.40" y2="606.50" stroke="#000" stroke-width="1"/>
<text x="493.40" y="610.40" font-size="10" text-anchor="end">10</text>
<line x1="494.60" y1="577.50" x2="497.40" y2="577.50" stroke="#000" stroke-width="1"/>
<text x="493.40" y="581.40" font-size="10" text-anchor="end">15</text>
<text x="518.50" y="675.80" font-size="10" text-anchor="middle">0 Gy</text>
<text x="563.40" y="675.80" font-size="10" text-anchor="middle">2 Gy</text>
<text x="499.20" y="567.50" font-size="7.4"><tspan font-style="italic">P</tspan>=0.6613</text>
<line x1="510.60" y1="570.40" x2="524.70" y2="570.40" stroke="#000" stroke-width="1"/>
<text x="534.20" y="571.10" font-size="7.4"><tspan font-style="italic">P</tspan>=0.0285</text>
<line x1="527.00" y1="574.20" x2="570.50" y2="574.20" stroke="#000" stroke-width="1"/>
<text x="0" y="0" font-size="10.1" text-anchor="middle" transform="translate(475.30,621.20) rotate(-90)">S-G2-M phase (%)</text>
<rect x="496.80" y="537.80" width="7.20" height="7.20" fill="#2400ff"/>
<rect x="496.80" y="548.00" width="7.20" height="7.20" fill="#ff2411"/>
<text x="507.20" y="545.00" font-size="10" font-style="italic">Emp1<tspan font-size="6.6" dy="-3.3">fl/fl</tspan></text>
<text x="507.20" y="555.20" font-size="10" font-style="italic">Emp1-cKO</text>
<text x="71.80" y="26.80" font-size="10">2 Gy</text>
<text x="59.90" y="39.80" font-size="10">or 5 Gy</text>
<text x="60.20" y="52.70" font-size="10">or 7.5 Gy</text>
<text x="11.00" y="128.00" font-size="10">Survival analysis</text>
<text x="74.6" y="75.5" font-size="10" font-style="italic">Emp1<tspan font-size="6" dy="-3.1">fl/fl</tspan><tspan font-style="normal" dy="3.1"> or</tspan></text>
<text x="74.60" y="86.30" font-size="10" font-style="italic">Emp1-cKO</text>
<text x="75.20" y="183.30" font-size="10">0 Gy</text>
<text x="64.20" y="195.70" font-size="10">or 2 Gy</text>
<text x="8.4" y="244.3" font-size="10" font-style="italic">Emp1<tspan font-size="6" dy="-3.1">fl/fl</tspan><tspan font-style="normal" dy="3.1"> or </tspan><tspan>Emp1-cKO</tspan></text>
<text x="55.10" y="266.30" font-size="10">24 h</text>
<text x="17.70" y="288.50" font-size="10">Flow cytometry</text>
<text x="33.40" y="300.50" font-size="10">analysis</text>
<g transform="translate(0.00,0.00)"><defs><linearGradient id="eg" x1="0" x2="1" y1="0" y2="0"><stop offset="0" stop-color="#9a9a9a"/><stop offset="0.6" stop-color="#dcdcdc"/><stop offset="1" stop-color="#f4f4f4"/></linearGradient></defs><path d="M10.1,70.6 C13,70.2 15.5,70.6 17,72.3 C18.5,74 20.5,74.5 24.9,74.4" fill="none" stroke="#777" stroke-width="0.6"/><path d="M24.9,74.4 C26,68.5 33,66 40,66 L46,66 M24.9,74.4 C26,80.5 33,83.2 40,83.2 L46,83.2" fill="none" stroke="#888" stroke-width="0.6"/><path d="M58.5,68.3 C63,68.8 67,71.5 70.4,74.9 C67,78.3 63,80.8 58.5,81.2" fill="none" stroke="#888" stroke-width="0.6"/><ellipse cx="52.4" cy="68.2" rx="6.8" ry="3.1" fill="url(#eg)" stroke="#777" stroke-width="0.5"/><ellipse cx="52.4" cy="81.7" rx="6.8" ry="3.1" fill="url(#eg)" stroke="#777" stroke-width="0.5"/><ellipse cx="63" cy="73.2" rx="1.4" ry="0.8" fill="#000"/><ellipse cx="63" cy="76.6" rx="1.4" ry="0.8" fill="#000"/><circle cx="68.9" cy="74.9" r="0.95" fill="#000"/><path d="M64.8,70.2 L68.8,66.6 M65.6,69 L69.2,68.4 M65.8,67.6 L67.8,70.6 M64.8,79.6 L68.8,83.2 M65.6,80.8 L69.2,81.4 M65.8,82.2 L67.8,79.2" stroke="#888" stroke-width="0.5"/></g>
<g transform="translate(-0.40,144.50)"><defs><linearGradient id="eg" x1="0" x2="1" y1="0" y2="0"><stop offset="0" stop-color="#9a9a9a"/><stop offset="0.6" stop-color="#dcdcdc"/><stop offset="1" stop-color="#f4f4f4"/></linearGradient></defs><path d="M10.1,70.6 C13,70.2 15.5,70.6 17,72.3 C18.5,74 20.5,74.5 24.9,74.4" fill="none" stroke="#777" stroke-width="0.6"/><path d="M24.9,74.4 C26,68.5 33,66 40,66 L46,66 M24.9,74.4 C26,80.5 33,83.2 40,83.2 L46,83.2" fill="none" stroke="#888" stroke-width="0.6"/><path d="M58.5,68.3 C63,68.8 67,71.5 70.4,74.9 C67,78.3 63,80.8 58.5,81.2" fill="none" stroke="#888" stroke-width="0.6"/><ellipse cx="52.4" cy="68.2" rx="6.8" ry="3.1" fill="url(#eg)" stroke="#777" stroke-width="0.5"/><ellipse cx="52.4" cy="81.7" rx="6.8" ry="3.1" fill="url(#eg)" stroke="#777" stroke-width="0.5"/><ellipse cx="63" cy="73.2" rx="1.4" ry="0.8" fill="#000"/><ellipse cx="63" cy="76.6" rx="1.4" ry="0.8" fill="#000"/><circle cx="68.9" cy="74.9" r="0.95" fill="#000"/><path d="M64.8,70.2 L68.8,66.6 M65.6,69 L69.2,68.4 M65.8,67.6 L67.8,70.6 M64.8,79.6 L68.8,83.2 M65.6,80.8 L69.2,81.4 M65.8,82.2 L67.8,79.2" stroke="#888" stroke-width="0.5"/></g>
<path transform="translate(0.00,0.00)" d="M43.0,59.7 L47.2,52.6 L48.6,53.4 L51.4,49.3 L52.3,50.6 L55.5,45.9 L58.5,50.7 L54.4,53.3 L53.8,52.4 L50.4,55.6 L49.6,54.6 Z" fill="#000"/>
<path transform="translate(2.80,143.40)" d="M43.0,59.7 L47.2,52.6 L48.6,53.4 L51.4,49.3 L52.3,50.6 L55.5,45.9 L58.5,50.7 L54.4,53.3 L53.8,52.4 L50.4,55.6 L49.6,54.6 Z" fill="#000"/>
<line x1="45.70" y1="92.20" x2="45.70" y2="110.40" stroke="#222" stroke-width="1"/>
<path d="M42.50,107.90 L45.70,109.30 L48.80,107.90 L45.70,115.40 Z" fill="#000"/>
<line x1="48.20" y1="253.00" x2="48.20" y2="271.40" stroke="#222" stroke-width="1"/>
<path d="M45.00,268.90 L48.20,270.30 L51.30,268.90 L48.20,276.40 Z" fill="#000"/>
<text x="53.80" y="400.40" font-size="10">HSCs</text>
<rect x="27.3" y="403.5" width="75.10" height="73.90" fill="none" stroke="#000" stroke-width="1"/>
<line x1="27.30" y1="477.40" x2="28.80" y2="477.40" stroke="#222" stroke-width="0.5"/>
<line x1="27.30" y1="474.57" x2="28.20" y2="474.57" stroke="#222" stroke-width="0.5"/>
<line x1="27.30" y1="471.74" x2="28.20" y2="471.74" stroke="#222" stroke-width="0.5"/>
<line x1="27.30" y1="468.91" x2="28.20" y2="468.91" stroke="#222" stroke-width="0.5"/>
<line x1="27.30" y1="466.08" x2="28.20" y2="466.08" stroke="#222" stroke-width="0.5"/>
<line x1="27.30" y1="463.25" x2="28.80" y2="463.25" stroke="#222" stroke-width="0.5"/>
<line x1="27.30" y1="460.42" x2="28.20" y2="460.42" stroke="#222" stroke-width="0.5"/>
<line x1="27.30" y1="457.59" x2="28.20" y2="457.59" stroke="#222" stroke-width="0.5"/>
<line x1="27.30" y1="454.76" x2="28.20" y2="454.76" stroke="#222" stroke-width="0.5"/>
<line x1="27.30" y1="451.93" x2="28.20" y2="451.93" stroke="#222" stroke-width="0.5"/>
<line x1="27.30" y1="449.10" x2="28.80" y2="449.10" stroke="#222" stroke-width="0.5"/>
<line x1="27.30" y1="446.27" x2="28.20" y2="446.27" stroke="#222" stroke-width="0.5"/>
<line x1="27.30" y1="443.44" x2="28.20" y2="443.44" stroke="#222" stroke-width="0.5"/>
<line x1="27.30" y1="440.61" x2="28.20" y2="440.61" stroke="#222" stroke-width="0.5"/>
<line x1="27.30" y1="437.78" x2="28.20" y2="437.78" stroke="#222" stroke-width="0.5"/>
<line x1="27.30" y1="434.95" x2="28.80" y2="434.95" stroke="#222" stroke-width="0.5"/>
<line x1="27.30" y1="432.12" x2="28.20" y2="432.12" stroke="#222" stroke-width="0.5"/>
<line x1="27.30" y1="429.29" x2="28.20" y2="429.29" stroke="#222" stroke-width="0.5"/>
<line x1="27.30" y1="426.46" x2="28.20" y2="426.46" stroke="#222" stroke-width="0.5"/>
<line x1="27.30" y1="423.63" x2="28.20" y2="423.63" stroke="#222" stroke-width="0.5"/>
<line x1="27.30" y1="420.80" x2="28.80" y2="420.80" stroke="#222" stroke-width="0.5"/>
<line x1="27.30" y1="417.97" x2="28.20" y2="417.97" stroke="#222" stroke-width="0.5"/>
<line x1="27.30" y1="415.14" x2="28.20" y2="415.14" stroke="#222" stroke-width="0.5"/>
<line x1="27.30" y1="412.31" x2="28.20" y2="412.31" stroke="#222" stroke-width="0.5"/>
<line x1="27.30" y1="409.48" x2="28.20" y2="409.48" stroke="#222" stroke-width="0.5"/>
<line x1="27.30" y1="406.65" x2="28.80" y2="406.65" stroke="#222" stroke-width="0.5"/>
<line x1="31.00" y1="477.40" x2="31.00" y2="476.20" stroke="#222" stroke-width="0.5"/>
<line x1="32.50" y1="477.40" x2="32.50" y2="476.20" stroke="#222" stroke-width="0.5"/>
<line x1="33.50" y1="477.40" x2="33.50" y2="476.20" stroke="#222" stroke-width="0.5"/>
<line x1="34.20" y1="477.40" x2="34.20" y2="476.20" stroke="#222" stroke-width="0.5"/>
<line x1="34.80" y1="477.40" x2="34.80" y2="476.20" stroke="#222" stroke-width="0.5"/>
<line x1="35.20" y1="477.40" x2="35.20" y2="476.20" stroke="#222" stroke-width="0.5"/>
<line x1="53.50" y1="477.40" x2="53.50" y2="476.20" stroke="#222" stroke-width="0.5"/>
<line x1="61.70" y1="477.40" x2="61.70" y2="476.20" stroke="#222" stroke-width="0.5"/>
<line x1="86.00" y1="477.40" x2="86.00" y2="476.20" stroke="#222" stroke-width="0.5"/>
<line x1="88.00" y1="477.40" x2="88.00" y2="476.20" stroke="#222" stroke-width="0.5"/>
<line x1="89.50" y1="477.40" x2="89.50" y2="476.20" stroke="#222" stroke-width="0.5"/>
<line x1="90.50" y1="477.40" x2="90.50" y2="476.20" stroke="#222" stroke-width="0.5"/>
<line x1="91.30" y1="477.40" x2="91.30" y2="476.20" stroke="#222" stroke-width="0.5"/>
<line x1="92.00" y1="477.40" x2="92.00" y2="476.20" stroke="#222" stroke-width="0.5"/>
<path d="M29.7,476.8 L34.4,475.1 L36.7,465.7 L38.5,435.2 L39.7,419.9 L40.2,418.8 L41.4,420.5 L43.2,429.3 L44.4,439.9 L45.5,444.0 L46.7,446.3 L47.9,455.1 L49.6,460.4 L52.0,463.9 L54.3,470.4 L56.7,475.1 L60.2,476.8" fill="none" stroke="#111" stroke-width="1.1" stroke-linejoin="round"/>
<path d="M34.4,476.8 L42.6,473.9 L45.5,468.0 L48.5,451.6 L51.4,437.5 L53.2,425.8 L54.3,418.2 L55.7,428.2 L57.3,449.3 L59.0,465.7 L60.8,476.2" fill="none" stroke="#2a2aff" stroke-width="1.1" stroke-linejoin="round"/>
<path d="M43.8,476.8 L50.8,473.9 L54.3,465.7 L56.1,449.3 L57.3,430.5 L58.2,420.5 L59.3,423.5 L60.2,441.1 L61.6,461.0 L63.7,472.7 L66.1,476.8" fill="none" stroke="#2a2aff" stroke-width="1.2" stroke-linejoin="round" stroke-dasharray="1.2,0.9"/>
<path d="M49.6,476.8 L54.3,472.7 L56.7,463.3 L57.8,442.2 L58.8,423.5 L59.4,417.6 L60.2,421.1 L61.4,428.2 L62.3,441.1 L63.7,458.7 L66.1,471.6 L68.4,476.2" fill="none" stroke="#ff3030" stroke-width="1.1" stroke-linejoin="round"/>
<path d="M57.8,476.8 L62.5,470.4 L64.9,446.9 L65.8,429.3 L66.6,418.2 L67.8,423.5 L69.0,441.1 L70.7,461.0 L72.5,472.7 L74.9,476.8" fill="none" stroke="#ff2a2a" stroke-width="1.2" stroke-linejoin="round" stroke-dasharray="1.2,0.9"/>
<line x1="22.00" y1="483.50" x2="22.00" y2="457.50" stroke="#333" stroke-width="0.8"/>
<path d="M19.90,458.00 L22.00,453.50 L24.10,458.00 Z" fill="#222"/>
<line x1="22.00" y1="483.50" x2="49.10" y2="483.50" stroke="#333" stroke-width="0.8"/>
<path d="M48.60,481.40 L53.10,483.50 L48.60,485.60 Z" fill="#222"/>
<text x="0" y="0" font-size="10" text-anchor="middle" transform="translate(24.50,431.20) rotate(-90)">% of Max</text>
<text x="54.30" y="487.30" font-size="10">Proteostat</text>
<line x1="14.4" y1="343.5" x2="26.5" y2="343.5" stroke="#111" stroke-width="1"/>
<line x1="14.4" y1="353.5" x2="26.5" y2="353.5" stroke="#2a2aff" stroke-width="1"/>
<line x1="14.4" y1="363.6" x2="26.5" y2="363.6" stroke="#3a3aff" stroke-width="1.2" stroke-dasharray="1.2,1"/>
<line x1="14.4" y1="374" x2="26.5" y2="374" stroke="#ff3a3a" stroke-width="1"/>
<line x1="14.4" y1="383.4" x2="26.5" y2="383.4" stroke="#ff2a2a" stroke-width="1.2" stroke-dasharray="1.2,1"/>
<text x="28.70" y="346.90" font-size="10">FMO</text>
<text x="28.7" y="356.7" font-size="10" font-style="italic">Emp1<tspan font-size="6" dy="-3.0">fl/fl</tspan><tspan dy="3.0" font-style="normal">-0 Gy</tspan></text>
<text x="28.7" y="366.7" font-size="10" font-style="italic">Emp1<tspan font-size="6" dy="-3.0">fl/fl</tspan><tspan dy="3.0" font-style="normal">-2 Gy</tspan></text>
<text x="28.7" y="376.6" font-size="10" font-style="italic">Emp1<tspan font-size="6" dy="-3.0">fl/fl</tspan><tspan dy="3.0">-cKO</tspan><tspan font-style="normal">-0 Gy</tspan></text>
<text x="28.7" y="386.5" font-size="10" font-style="italic">Emp1<tspan font-size="6" dy="-3.0">fl/fl</tspan><tspan dy="3.0">-cKO</tspan><tspan font-style="normal">-2 Gy</tspan></text>
<text x="47.2" y="525.3" font-size="10" font-style="italic">Emp1<tspan font-size="6" dy="-3.0">fl/fl</tspan></text>
<text x="103.70" y="525.30" font-size="10" font-style="italic">Emp1-cKO</text>
<text x="13.7" y="538.5" font-size="10">gated HSCs (CD48<tspan font-size="6.6" dy="-3.6">-</tspan><tspan dy="3.6">CD150</tspan><tspan font-size="6.6" dy="-3.6">+</tspan><tspan dy="3.6">LSK)</tspan></text>
<path d="M58.00,570.20 C58.43,569.05 60.13,569.65 61.10,569.20 C62.07,568.75 63.13,568.55 63.80,567.50 C64.47,566.45 64.45,564.10 65.10,562.90 C65.75,561.70 66.72,561.07 67.70,560.30 C68.68,559.53 70.22,558.52 71.00,558.30 C71.78,558.08 72.12,557.90 72.40,559.00 C72.68,560.10 72.70,562.27 72.70,564.90 C72.70,567.53 73.12,572.60 72.40,574.80 C71.68,577.00 69.62,577.43 68.40,578.10 C67.18,578.77 66.32,578.90 65.10,578.80 C63.88,578.70 62.20,577.95 61.10,577.50 C60.00,577.05 59.02,577.32 58.50,576.10 C57.98,574.88 57.57,571.35 58.00,570.20 Z" fill="#9a9a9a" stroke="#555" stroke-width="0.5" stroke-linejoin="round"/>
<path d="M60.00,571.50 C60.58,570.75 62.50,570.92 63.50,570.00 C64.50,569.08 65.17,567.17 66.00,566.00 C66.83,564.83 67.70,563.83 68.50,563.00 C69.30,562.17 70.35,560.50 70.80,561.00 C71.25,561.50 71.20,563.92 71.20,566.00 C71.20,568.08 71.42,571.75 70.80,573.50 C70.18,575.25 68.80,576.03 67.50,576.50 C66.20,576.97 64.25,576.63 63.00,576.30 C61.75,575.97 60.50,575.30 60.00,574.50 C59.50,573.70 59.42,572.25 60.00,571.50 Z" fill="#888888" stroke="#777" stroke-width="0.4" stroke-linejoin="round"/>
<ellipse cx="68.1" cy="562.7" rx="1.3" ry="1.5" fill="#555" stroke="none" stroke-width="0"/>
<ellipse cx="60.6" cy="572.8" rx="1.5" ry="1.3" fill="#777" stroke="none" stroke-width="0"/>
<ellipse cx="67.7" cy="574.6" rx="1.6" ry="1.3" fill="#777" stroke="none" stroke-width="0"/>
<path d="M51.60,563.30 C52.60,563.58 54.33,565.08 55.20,565.90 C56.07,566.72 56.47,566.72 56.80,568.20 C57.13,569.68 57.20,572.60 57.20,574.80 C57.20,577.00 57.13,579.42 56.80,581.40 C56.47,583.38 55.80,584.93 55.20,586.70 C54.60,588.47 53.70,590.57 53.20,592.00 C52.70,593.43 52.75,594.63 52.20,595.30 C51.65,595.97 50.62,596.45 49.90,596.00 C49.18,595.55 48.50,594.15 47.90,592.60 C47.30,591.05 46.73,588.78 46.30,586.70 C45.87,584.62 45.52,582.63 45.30,580.10 C45.08,577.57 44.78,573.70 45.00,571.50 C45.22,569.30 45.90,568.12 46.60,566.90 C47.30,565.68 48.37,564.80 49.20,564.20 C50.03,563.60 50.60,563.02 51.60,563.30 Z" fill="#a2a2a2" stroke="#444" stroke-width="0.6" stroke-linejoin="round"/>
<ellipse cx="50.4" cy="579.5" rx="3.8" ry="11.0" fill="#8a8a8a" stroke="#111" stroke-width="0.9"/>
<ellipse cx="50.5" cy="578.5" rx="3.0" ry="8.6" fill="none" stroke="#111" stroke-width="0.6"/>
<ellipse cx="50.6" cy="573.6" rx="2.3" ry="3.4" fill="#b0b0b0" stroke="#222" stroke-width="0.7"/>
<ellipse cx="50.4" cy="585" rx="2.1" ry="2.4" fill="#b0b0b0" stroke="#222" stroke-width="0.7"/>
<ellipse cx="50.0" cy="574.8" rx="0.8" ry="1.0" fill="#444" stroke="none" stroke-width="0"/>
<ellipse cx="50.2" cy="579.8" rx="0.7" ry="1.0" fill="#555" stroke="none" stroke-width="0"/>
<ellipse cx="50.7" cy="592.6" rx="1.2" ry="2.0" fill="#444" stroke="none" stroke-width="0"/>
<path d="M56.6,576.5 L58.3,577 L58.3,581 L56.8,580.8 Z" fill="#000"/>
<circle cx="89.2" cy="561.5" r="0.9" fill="#aaa" stroke="#444" stroke-width="0.5"/>
<path d="M125.50,563.20 C125.98,561.92 127.02,564.60 127.90,564.20 C128.78,563.80 129.83,561.77 130.80,560.80 C131.77,559.83 132.65,558.88 133.70,558.40 C134.75,557.92 135.97,557.58 137.10,557.90 C138.23,558.22 139.53,559.08 140.50,560.30 C141.47,561.52 142.58,563.42 142.90,565.20 C143.22,566.98 142.88,569.40 142.40,571.00 C141.92,572.60 140.80,574.08 140.00,574.80 C139.20,575.52 138.65,575.30 137.60,575.30 C136.55,575.30 135.00,574.80 133.70,574.80 C132.40,574.80 131.00,575.17 129.80,575.30 C128.60,575.43 127.30,576.17 126.50,575.60 C125.70,575.03 125.17,573.97 125.00,571.90 C124.83,569.83 125.02,564.48 125.50,563.20 Z" fill="#949494" stroke="#333" stroke-width="0.6" stroke-linejoin="round"/>
<path d="M129.00,566.00 C129.08,564.42 130.92,563.83 132.00,563.00 C133.08,562.17 134.33,561.17 135.50,561.00 C136.67,560.83 138.08,561.17 139.00,562.00 C139.92,562.83 140.83,564.50 141.00,566.00 C141.17,567.50 140.83,569.83 140.00,571.00 C139.17,572.17 137.42,572.75 136.00,573.00 C134.58,573.25 132.67,573.67 131.50,572.50 C130.33,571.33 128.92,567.58 129.00,566.00 Z" fill="#808080" stroke="#666" stroke-width="0.4" stroke-linejoin="round"/>
<ellipse cx="139.2" cy="566" rx="1.4" ry="2.2" fill="#555" stroke="none" stroke-width="0"/>
<path d="M125.2,566 C126.5,569 127,572 127.5,574 C131,574.2 135,573.8 139.8,574.6 C140,575.6 137,576.2 133,576.3 C129,576.4 126,576.6 125,576 Z" fill="#000"/>
<ellipse cx="133.7" cy="565.3" rx="1.3" ry="1.0" fill="#000" stroke="none" stroke-width="0"/>
<ellipse cx="139" cy="573.3" rx="1.0" ry="1.8" fill="#000" stroke="none" stroke-width="0"/>
<ellipse cx="126.2" cy="567.6" rx="1.0" ry="1.3" fill="#fff" stroke="none" stroke-width="0"/>
<ellipse cx="131.8" cy="565.8" rx="0.9" ry="0.7" fill="#fff" stroke="none" stroke-width="0"/>
<ellipse cx="137.1" cy="572" rx="0.8" ry="1.0" fill="#fff" stroke="none" stroke-width="0"/>
<path d="M121.10,558.40 C121.83,558.72 123.03,559.03 123.60,560.80 C124.17,562.57 124.43,565.68 124.50,569.00 C124.57,572.32 124.32,577.63 124.00,580.70 C123.68,583.77 123.23,585.80 122.60,587.40 C121.97,589.00 121.02,589.88 120.20,590.30 C119.38,590.72 118.52,590.70 117.70,589.90 C116.88,589.10 115.93,587.68 115.30,585.50 C114.67,583.32 114.05,579.87 113.90,576.80 C113.75,573.73 113.92,569.60 114.40,567.10 C114.88,564.60 116.00,563.17 116.80,561.80 C117.60,560.43 118.48,559.47 119.20,558.90 C119.92,558.33 120.37,558.08 121.10,558.40 Z" fill="#7c7c7c" stroke="#222" stroke-width="0.7" stroke-linejoin="round"/>
<ellipse cx="119.6" cy="574.8" rx="3.4" ry="12.6" fill="#8a8a8a" stroke="#1a1a1a" stroke-width="0.7"/>
<ellipse cx="119.7" cy="576.3" rx="2.9" ry="9.2" fill="#7a7a7a" stroke="#111" stroke-width="0.7"/>
<ellipse cx="119.4" cy="572" rx="1.7" ry="2.2" fill="#a0a0a0" stroke="#222" stroke-width="0.7"/>
<ellipse cx="119.4" cy="581.6" rx="2.1" ry="2.2" fill="#a0a0a0" stroke="#222" stroke-width="0.7"/>
<ellipse cx="119.3" cy="572" rx="0.6" ry="0.8" fill="#555" stroke="none" stroke-width="0"/>
<ellipse cx="118.7" cy="593.8" rx="1.5" ry="0.9" fill="#111" stroke="none" stroke-width="0"/>
<path d="M57.00,636.00 C57.33,634.63 58.92,634.88 60.00,634.80 C61.08,634.72 62.62,634.97 63.50,635.50 C64.38,636.03 65.13,636.92 65.30,638.00 C65.47,639.08 65.13,641.08 64.50,642.00 C63.87,642.92 62.58,643.33 61.50,643.50 C60.42,643.67 58.75,644.25 58.00,643.00 C57.25,641.75 56.67,637.37 57.00,636.00 Z" fill="#c0c0c0" stroke="#888" stroke-width="0.4" stroke-linejoin="round"/>
<path d="M54.10,630.70 C55.00,631.03 56.12,631.82 56.60,633.20 C57.08,634.58 56.97,636.75 57.00,639.00 C57.03,641.25 57.28,644.77 56.80,646.70 C56.32,648.63 55.12,649.30 54.10,650.60 C53.08,651.90 51.75,653.45 50.70,654.50 C49.65,655.55 48.68,656.67 47.80,656.90 C46.92,657.13 45.95,656.95 45.40,655.90 C44.85,654.85 44.58,652.62 44.50,650.60 C44.42,648.58 44.50,645.73 44.90,643.80 C45.30,641.87 46.97,640.13 46.90,639.00 C46.83,637.87 45.07,637.40 44.50,637.00 C43.93,636.60 43.43,636.83 43.50,636.60 C43.57,636.37 44.10,636.08 44.90,635.60 C45.70,635.12 47.25,634.43 48.30,633.70 C49.35,632.97 50.23,631.70 51.20,631.20 C52.17,630.70 53.20,630.37 54.10,630.70 Z" fill="#a0a0a0" stroke="#333" stroke-width="0.6" stroke-linejoin="round"/>
<ellipse cx="52" cy="642.6" rx="4.3" ry="10.5" fill="#888888" stroke="#111" stroke-width="0.8" transform="rotate(18 52 642.6)"/>
<ellipse cx="52.5" cy="641" rx="3.4" ry="7.6" fill="none" stroke="#111" stroke-width="0.6" transform="rotate(15 52.5 641)"/>
<ellipse cx="53.1" cy="638" rx="2.3" ry="3.9" fill="#aaaaaa" stroke="#222" stroke-width="0.7" transform="rotate(10 53.1 638)"/>
<ellipse cx="53.7" cy="638.6" rx="0.8" ry="1.2" fill="#444" stroke="none" stroke-width="0"/>
<path d="M46.9,650.6 L48.8,653.5 L53.2,648.7" fill="none" stroke="#111" stroke-width="0.8"/>
<ellipse cx="61.9" cy="630.3" rx="2.2" ry="2.2" fill="#9a9a9a" stroke="#555" stroke-width="0.5"/>
<ellipse cx="61.4" cy="640" rx="2.1" ry="2.1" fill="#b0b0b0" stroke="#333" stroke-width="0.6"/>
<ellipse cx="61.4" cy="640" rx="0.8" ry="0.8" fill="#444" stroke="none" stroke-width="0"/>
<path d="M52.8,657.8 L51.4,660.3 L54,660.3 M53.2,658.2 L53.2,661.2" stroke="#333" stroke-width="0.55" fill="none"/>
<path d="M122.60,627.30 C123.23,627.35 124.12,627.47 124.60,628.20 C125.08,628.93 125.05,630.97 125.50,631.70 C125.95,632.43 126.72,633.48 127.30,632.60 C127.88,631.72 128.42,627.52 129.00,626.40 C129.58,625.28 130.25,625.50 130.80,625.90 C131.35,626.30 132.05,627.33 132.30,628.80 C132.55,630.27 132.27,632.95 132.30,634.70 C132.33,636.45 132.65,637.85 132.50,639.30 C132.35,640.75 131.88,642.32 131.40,643.40 C130.92,644.48 130.28,645.50 129.60,645.80 C128.92,646.10 128.03,644.92 127.30,645.20 C126.57,645.48 125.60,646.62 125.20,647.50 C124.80,648.38 125.33,649.62 124.90,650.50 C124.47,651.38 123.47,652.32 122.60,652.80 C121.73,653.28 120.78,653.40 119.70,653.40 C118.62,653.40 117.28,653.08 116.10,652.80 C114.92,652.52 113.38,652.38 112.60,651.70 C111.82,651.02 111.50,649.88 111.40,648.70 C111.30,647.52 111.85,645.87 112.00,644.60 C112.15,643.33 112.00,642.37 112.30,641.10 C112.60,639.83 113.17,638.17 113.80,637.00 C114.43,635.83 115.22,635.27 116.10,634.10 C116.98,632.93 118.32,631.03 119.10,630.00 C119.88,628.97 120.22,628.35 120.80,627.90 C121.38,627.45 121.97,627.25 122.60,627.30 Z" fill="#a0a0a0" stroke="#222" stroke-width="0.6" stroke-linejoin="round"/>
<path d="M127.50,634.00 C127.92,632.33 128.92,631.17 129.50,631.00 C130.08,630.83 130.72,631.67 131.00,633.00 C131.28,634.33 131.28,637.33 131.20,639.00 C131.12,640.67 130.95,642.17 130.50,643.00 C130.05,643.83 129.08,644.33 128.50,644.00 C127.92,643.67 127.17,642.67 127.00,641.00 C126.83,639.33 127.08,635.67 127.50,634.00 Z" fill="#888888" stroke="#666" stroke-width="0.4" stroke-linejoin="round"/>
<ellipse cx="129.3" cy="640.2" rx="1.5" ry="1.8" fill="#222" stroke="none" stroke-width="0"/>
<ellipse cx="121.6" cy="641" rx="4.0" ry="8.4" fill="#888888" stroke="#111" stroke-width="0.8"/>
<ellipse cx="121.8" cy="640.2" rx="3.3" ry="6.8" fill="none" stroke="#111" stroke-width="0.6"/>
<ellipse cx="121.9" cy="639.4" rx="2.6" ry="5.2" fill="#aaaaaa" stroke="#222" stroke-width="0.7"/>
<ellipse cx="122" cy="638.3" rx="1.1" ry="1.6" fill="#555" stroke="none" stroke-width="0"/>
<path d="M119.4,652.8 C119.9,655 120.6,657 121.3,658.5" stroke="#111" stroke-width="1" fill="none"/>
<rect x="28.5" y="540.8" width="64.50" height="64.00" fill="none" stroke="#111" stroke-width="1"/>
<line x1="57.50" y1="540.80" x2="57.50" y2="604.80" stroke="#444" stroke-width="1.1"/>
<line x1="28.50" y1="576.90" x2="93.00" y2="576.90" stroke="#444" stroke-width="1.1"/>
<line x1="28.50" y1="599.50" x2="29.40" y2="599.50" stroke="#444" stroke-width="0.5"/>
<line x1="28.50" y1="594.20" x2="29.40" y2="594.20" stroke="#444" stroke-width="0.5"/>
<line x1="28.50" y1="588.90" x2="29.40" y2="588.90" stroke="#444" stroke-width="0.5"/>
<line x1="28.50" y1="583.60" x2="29.40" y2="583.60" stroke="#444" stroke-width="0.5"/>
<line x1="28.50" y1="578.30" x2="29.40" y2="578.30" stroke="#444" stroke-width="0.5"/>
<line x1="28.50" y1="573.00" x2="29.40" y2="573.00" stroke="#444" stroke-width="0.5"/>
<line x1="28.50" y1="567.70" x2="29.40" y2="567.70" stroke="#444" stroke-width="0.5"/>
<line x1="28.50" y1="562.40" x2="29.40" y2="562.40" stroke="#444" stroke-width="0.5"/>
<line x1="28.50" y1="557.10" x2="29.40" y2="557.10" stroke="#444" stroke-width="0.5"/>
<line x1="28.50" y1="551.80" x2="29.40" y2="551.80" stroke="#444" stroke-width="0.5"/>
<line x1="28.50" y1="546.50" x2="29.40" y2="546.50" stroke="#444" stroke-width="0.5"/>
<rect x="95.5" y="540.5" width="65.20" height="65.00" fill="none" stroke="#111" stroke-width="1"/>
<line x1="125.00" y1="540.50" x2="125.00" y2="605.50" stroke="#444" stroke-width="1.1"/>
<line x1="95.50" y1="576.80" x2="160.70" y2="576.80" stroke="#444" stroke-width="1.1"/>
<line x1="95.50" y1="600.20" x2="96.40" y2="600.20" stroke="#444" stroke-width="0.5"/>
<line x1="95.50" y1="594.90" x2="96.40" y2="594.90" stroke="#444" stroke-width="0.5"/>
<line x1="95.50" y1="589.60" x2="96.40" y2="589.60" stroke="#444" stroke-width="0.5"/>
<line x1="95.50" y1="584.30" x2="96.40" y2="584.30" stroke="#444" stroke-width="0.5"/>
<line x1="95.50" y1="579.00" x2="96.40" y2="579.00" stroke="#444" stroke-width="0.5"/>
<line x1="95.50" y1="573.70" x2="96.40" y2="573.70" stroke="#444" stroke-width="0.5"/>
<line x1="95.50" y1="568.40" x2="96.40" y2="568.40" stroke="#444" stroke-width="0.5"/>
<line x1="95.50" y1="563.10" x2="96.40" y2="563.10" stroke="#444" stroke-width="0.5"/>
<line x1="95.50" y1="557.80" x2="96.40" y2="557.80" stroke="#444" stroke-width="0.5"/>
<line x1="95.50" y1="552.50" x2="96.40" y2="552.50" stroke="#444" stroke-width="0.5"/>
<line x1="95.50" y1="547.20" x2="96.40" y2="547.20" stroke="#444" stroke-width="0.5"/>
<rect x="28.5" y="608.5" width="64.50" height="64.50" fill="none" stroke="#111" stroke-width="1"/>
<line x1="57.60" y1="608.50" x2="57.60" y2="673.00" stroke="#444" stroke-width="1.1"/>
<line x1="28.50" y1="644.30" x2="93.00" y2="644.30" stroke="#444" stroke-width="1.1"/>
<line x1="28.50" y1="667.70" x2="29.40" y2="667.70" stroke="#444" stroke-width="0.5"/>
<line x1="28.50" y1="662.40" x2="29.40" y2="662.40" stroke="#444" stroke-width="0.5"/>
<line x1="28.50" y1="657.10" x2="29.40" y2="657.10" stroke="#444" stroke-width="0.5"/>
<line x1="28.50" y1="651.80" x2="29.40" y2="651.80" stroke="#444" stroke-width="0.5"/>
<line x1="28.50" y1="646.50" x2="29.40" y2="646.50" stroke="#444" stroke-width="0.5"/>
<line x1="28.50" y1="641.20" x2="29.40" y2="641.20" stroke="#444" stroke-width="0.5"/>
<line x1="28.50" y1="635.90" x2="29.40" y2="635.90" stroke="#444" stroke-width="0.5"/>
<line x1="28.50" y1="630.60" x2="29.40" y2="630.60" stroke="#444" stroke-width="0.5"/>
<line x1="28.50" y1="625.30" x2="29.40" y2="625.30" stroke="#444" stroke-width="0.5"/>
<line x1="28.50" y1="620.00" x2="29.40" y2="620.00" stroke="#444" stroke-width="0.5"/>
<line x1="28.50" y1="614.70" x2="29.40" y2="614.70" stroke="#444" stroke-width="0.5"/>
<rect x="95.4" y="608.7" width="65.30" height="64.40" fill="none" stroke="#111" stroke-width="1"/>
<line x1="125.30" y1="608.70" x2="125.30" y2="673.10" stroke="#444" stroke-width="1.1"/>
<line x1="95.40" y1="644.80" x2="160.70" y2="644.80" stroke="#444" stroke-width="1.1"/>
<line x1="95.40" y1="667.80" x2="96.30" y2="667.80" stroke="#444" stroke-width="0.5"/>
<line x1="95.40" y1="662.50" x2="96.30" y2="662.50" stroke="#444" stroke-width="0.5"/>
<line x1="95.40" y1="657.20" x2="96.30" y2="657.20" stroke="#444" stroke-width="0.5"/>
<line x1="95.40" y1="651.90" x2="96.30" y2="651.90" stroke="#444" stroke-width="0.5"/>
<line x1="95.40" y1="646.60" x2="96.30" y2="646.60" stroke="#444" stroke-width="0.5"/>
<line x1="95.40" y1="641.30" x2="96.30" y2="641.30" stroke="#444" stroke-width="0.5"/>
<line x1="95.40" y1="636.00" x2="96.30" y2="636.00" stroke="#444" stroke-width="0.5"/>
<line x1="95.40" y1="630.70" x2="96.30" y2="630.70" stroke="#444" stroke-width="0.5"/>
<line x1="95.40" y1="625.40" x2="96.30" y2="625.40" stroke="#444" stroke-width="0.5"/>
<line x1="95.40" y1="620.10" x2="96.30" y2="620.10" stroke="#444" stroke-width="0.5"/>
<line x1="95.40" y1="614.80" x2="96.30" y2="614.80" stroke="#444" stroke-width="0.5"/>
<text x="35.00" y="549.60" font-size="8.4" fill="#ff2a2a">G1</text>
<text x="30.70" y="557.60" font-size="8.4" fill="#ff2a2a">27.8%</text>
<text x="62.50" y="549.60" font-size="8.4" fill="#ff2a2a">S-G2-M</text>
<text x="67.90" y="557.60" font-size="8.4" fill="#ff2a2a">11.2%</text>
<text x="35.00" y="595.10" font-size="8.4" fill="#ff2a2a">G0</text>
<text x="30.70" y="603.30" font-size="8.4" fill="#ff2a2a">60.4%</text>
<text x="97.90" y="557.20" font-size="8.4" fill="#ff2a2a">46.1%</text>
<text x="136.50" y="557.20" font-size="8.4" fill="#ff2a2a">11.9%</text>
<text x="97.90" y="603.30" font-size="8.4" fill="#ff2a2a">41.8%</text>
<text x="30.40" y="623.60" font-size="8.4" fill="#ff2a2a">57.8%</text>
<text x="68.60" y="623.60" font-size="8.4" fill="#ff2a2a">10.9%</text>
<text x="30.40" y="670.80" font-size="8.4" fill="#ff2a2a">31.1%</text>
<text x="97.80" y="623.50" font-size="8.4" fill="#ff2a2a">75.1%</text>
<text x="138.10" y="623.50" font-size="8.4" fill="#ff2a2a">7.7%</text>
<text x="97.80" y="670.40" font-size="8.4" fill="#ff2a2a">16.4%</text>
<text x="0" y="0" font-size="10" text-anchor="middle" transform="translate(14.60,568.00) rotate(-90)">0 Gy</text>
<text x="0" y="0" font-size="10" text-anchor="middle" transform="translate(15.30,631.70) rotate(-90)">2 Gy</text>
<text x="0" y="0" font-size="10" text-anchor="middle" transform="translate(26.80,641.20) rotate(-90)">Ki-67</text>
<line x1="23.10" y1="677.40" x2="23.10" y2="661.00" stroke="#333" stroke-width="0.8"/>
<path d="M21.00,661.50 L23.10,657.00 L25.20,661.50 Z" fill="#222"/>
<line x1="23.10" y1="677.40" x2="41.00" y2="677.40" stroke="#333" stroke-width="0.8"/>
<path d="M40.50,675.30 L45.00,677.40 L40.50,679.50 Z" fill="#222"/>
<text x="48.20" y="681.50" font-size="10">DAPI</text>
</svg>
</body></html>
